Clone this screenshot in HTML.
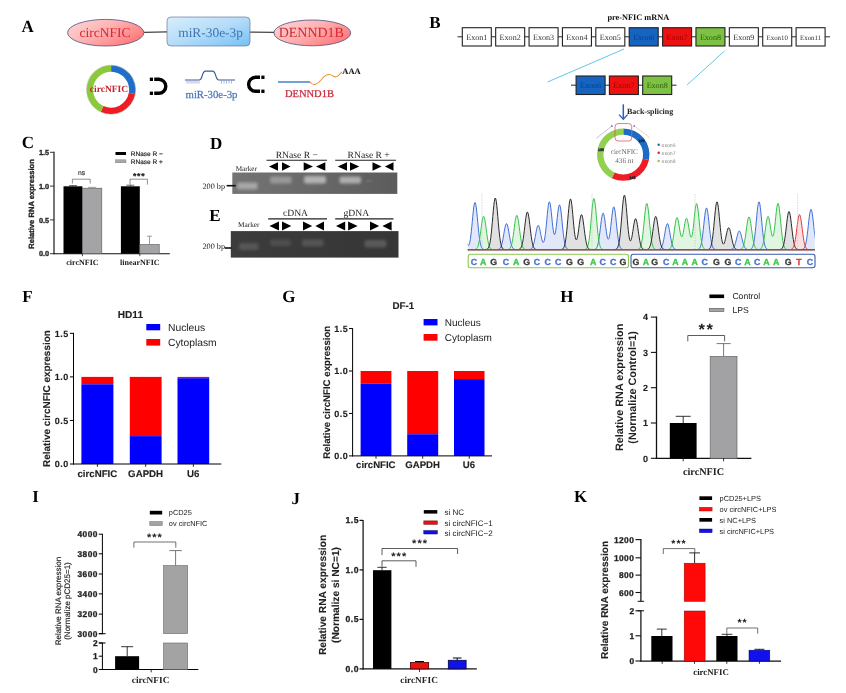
<!DOCTYPE html>
<html><head><meta charset="utf-8"><title>Figure</title>
<style>
html,body{margin:0;padding:0;background:#fff;}
body{width:846px;height:693px;overflow:hidden;}
svg{display:block;filter:blur(0.35px);}
</style></head><body>
<svg width="846" height="693" viewBox="0 0 846 693" text-rendering="geometricPrecision">
<rect x="0" y="0" width="846" height="693" fill="#fff"/>
<defs>
<linearGradient id="gRed" x1="0" y1="0" x2="1" y2="0.6"><stop offset="0" stop-color="#fdd8d8"/><stop offset="0.5" stop-color="#fdb4b4"/><stop offset="1" stop-color="#ff7c7c"/></linearGradient>
<linearGradient id="gBlue" x1="0" y1="0" x2="1" y2="1"><stop offset="0" stop-color="#d8eefc"/><stop offset="0.5" stop-color="#b4dcf8"/><stop offset="1" stop-color="#74c0f4"/></linearGradient>
<linearGradient id="gelD" x1="0" y1="0" x2="1" y2="0"><stop offset="0" stop-color="#747474"/><stop offset="0.5" stop-color="#686868"/><stop offset="1" stop-color="#5c5c5c"/></linearGradient>
<linearGradient id="gelE" x1="0" y1="0" x2="1" y2="0"><stop offset="0" stop-color="#3c3c3c"/><stop offset="1" stop-color="#363636"/></linearGradient>
<filter id="bl1" x="-20%" y="-50%" width="140%" height="200%"><feGaussianBlur stdDeviation="1.7"/></filter>
<filter id="bl2" x="-20%" y="-50%" width="140%" height="200%"><feGaussianBlur stdDeviation="0.8"/></filter>
</defs>
<text x="21.50" y="31.60" font-family="Liberation Serif, serif" font-size="17" font-weight="bold" fill="#000" text-anchor="start" >A</text>
<line x1="144.00" y1="32.30" x2="167.00" y2="31.90" stroke="#444" stroke-width="1.2" />
<line x1="250.00" y1="32.10" x2="274.00" y2="32.40" stroke="#444" stroke-width="1.2" />
<ellipse cx="105.7" cy="32.7" rx="38.1" ry="13.3" fill="url(#gRed)" stroke="#4c4c80" stroke-width="0.8"/>
<rect x="167" y="17" width="83" height="29" rx="4" fill="url(#gBlue)" stroke="#4a6a90" stroke-width="0.6"/>
<ellipse cx="312.3" cy="32.9" rx="38.4" ry="12.9" fill="url(#gRed)" stroke="#4c4c80" stroke-width="0.8"/>
<text x="105.00" y="36.80" font-family="Liberation Serif, serif" font-size="13.5" font-weight="normal" fill="#d42636" text-anchor="middle" >circNFIC</text>
<text x="210.60" y="36.80" font-family="Liberation Serif, serif" font-size="13.4" font-weight="normal" fill="#3f74b4" text-anchor="middle" >miR-30e-3p</text>
<text x="311.30" y="37.30" font-family="Liberation Serif, serif" font-size="14" font-weight="normal" fill="#d42636" text-anchor="middle" >DENND1B</text>
<circle cx="111.1" cy="89.7" r="24.5" fill="none" stroke="#bbb" stroke-width="0.8"/>
<path d="M111.10,65.40 A24.3,24.3 0 0 1 135.03,93.92 L128.83,92.83 A18,18 0 0 0 111.10,71.70 Z" fill="#1f6fc8"/>
<path d="M135.03,93.92 A24.3,24.3 0 0 1 100.83,111.72 L103.49,106.01 A18,18 0 0 0 128.83,92.83 Z" fill="#ee1c25"/>
<path d="M100.83,111.72 A24.3,24.3 0 0 1 111.10,65.40 L111.10,71.70 A18,18 0 0 0 103.49,106.01 Z" fill="#8cc83c"/>
<text x="109.00" y="92.40" font-family="Liberation Serif, serif" font-size="9.5" font-weight="bold" fill="#c8202a" text-anchor="middle" >circNFIC</text>
<path d="M154.2,79.3 H158.8 A7,7 0 0 1 158.8,93.3 H154.2" fill="none" stroke="#000" stroke-width="3.4" />
<rect x="149.80" y="77.60" width="3.20" height="3.40" fill="#000" stroke="none" stroke-width="0" />
<rect x="149.80" y="91.60" width="3.20" height="3.40" fill="#000" stroke="none" stroke-width="0" />
<path d="M260,77.3 H255.6 A7,7 0 0 0 255.6,91.3 H260" fill="none" stroke="#000" stroke-width="3.4" />
<rect x="261.30" y="75.60" width="3.20" height="3.40" fill="#000" stroke="none" stroke-width="0" />
<rect x="261.30" y="89.60" width="3.20" height="3.40" fill="#000" stroke="none" stroke-width="0" />
<path d="M185,80 H199 C203,80 201.5,71.2 205.5,71.2 H212.5 C216.5,71.2 215,80 219,80 H235" fill="none" stroke="#3a5a9a" stroke-width="1.2" />
<line x1="187.00" y1="80.80" x2="187.00" y2="83.60" stroke="#6f8cc0" stroke-width="0.6" />
<line x1="189.00" y1="80.80" x2="189.00" y2="83.60" stroke="#6f8cc0" stroke-width="0.6" />
<line x1="191.00" y1="80.80" x2="191.00" y2="83.60" stroke="#6f8cc0" stroke-width="0.6" />
<line x1="193.00" y1="80.80" x2="193.00" y2="83.60" stroke="#6f8cc0" stroke-width="0.6" />
<line x1="195.00" y1="80.80" x2="195.00" y2="83.60" stroke="#6f8cc0" stroke-width="0.6" />
<line x1="197.00" y1="80.80" x2="197.00" y2="83.60" stroke="#6f8cc0" stroke-width="0.6" />
<line x1="199.00" y1="80.80" x2="199.00" y2="83.60" stroke="#6f8cc0" stroke-width="0.6" />
<line x1="221.50" y1="80.80" x2="221.50" y2="83.60" stroke="#6f8cc0" stroke-width="0.6" />
<line x1="224.00" y1="80.80" x2="224.00" y2="83.60" stroke="#6f8cc0" stroke-width="0.6" />
<line x1="226.50" y1="80.80" x2="226.50" y2="83.60" stroke="#6f8cc0" stroke-width="0.6" />
<line x1="229.00" y1="80.80" x2="229.00" y2="83.60" stroke="#6f8cc0" stroke-width="0.6" />
<line x1="231.50" y1="80.80" x2="231.50" y2="83.60" stroke="#6f8cc0" stroke-width="0.6" />
<text x="211.50" y="98.00" font-family="Liberation Serif, serif" font-size="10.75" font-weight="normal" fill="#4a78b8" text-anchor="middle" stroke="#4a78b8" stroke-width="0.25">miR-30e-3p</text>
<line x1="278.00" y1="82.00" x2="310.00" y2="82.00" stroke="#2a6cc0" stroke-width="1.3" />
<path d="M310,82 C313,86 317,85 321,80 C325,74.5 329,73 333,76 C336.5,78.5 339,75 342,72" fill="none" stroke="#e8963c" stroke-width="1.1" />
<text x="342.30" y="74.00" font-family="Liberation Serif, serif" font-size="8.5" font-weight="bold" fill="#111" text-anchor="start" >AAA</text>
<text x="309.40" y="97.30" font-family="Liberation Serif, serif" font-size="10.5" font-weight="normal" fill="#c8283a" text-anchor="middle" stroke="#c8283a" stroke-width="0.25">DENND1B</text>
<text x="429.30" y="28.10" font-family="Liberation Serif, serif" font-size="17" font-weight="bold" fill="#000" text-anchor="start" >B</text>
<text x="638.30" y="19.80" font-family="Liberation Serif, serif" font-size="8.3" font-weight="bold" fill="#111" text-anchor="middle" >pre-NFIC mRNA</text>
<line x1="457.50" y1="36.80" x2="830.00" y2="36.80" stroke="#111" stroke-width="0.9" />
<rect x="462.30" y="27.70" width="29.00" height="18.30" fill="#fff" stroke="#222" stroke-width="1.1" />
<text x="476.80" y="39.95" font-family="Liberation Serif, serif" font-size="8.1" font-weight="normal" fill="#333" text-anchor="middle" >Exon1</text>
<rect x="495.68" y="27.70" width="29.00" height="18.30" fill="#fff" stroke="#222" stroke-width="1.1" />
<text x="510.18" y="39.95" font-family="Liberation Serif, serif" font-size="8.1" font-weight="normal" fill="#333" text-anchor="middle" >Exon2</text>
<rect x="529.06" y="27.70" width="29.00" height="18.30" fill="#fff" stroke="#222" stroke-width="1.1" />
<text x="543.56" y="39.95" font-family="Liberation Serif, serif" font-size="8.1" font-weight="normal" fill="#333" text-anchor="middle" >Exon3</text>
<rect x="562.44" y="27.70" width="29.00" height="18.30" fill="#fff" stroke="#222" stroke-width="1.1" />
<text x="576.94" y="39.95" font-family="Liberation Serif, serif" font-size="8.1" font-weight="normal" fill="#333" text-anchor="middle" >Exon4</text>
<rect x="595.82" y="27.70" width="29.00" height="18.30" fill="#fff" stroke="#222" stroke-width="1.1" />
<text x="610.32" y="39.95" font-family="Liberation Serif, serif" font-size="8.1" font-weight="normal" fill="#333" text-anchor="middle" >Exon5</text>
<rect x="629.20" y="27.70" width="29.00" height="18.30" fill="#1565c0" stroke="#222" stroke-width="1.1" />
<text x="643.70" y="39.95" font-family="Liberation Serif, serif" font-size="8.1" font-weight="normal" fill="#0b3f8a" text-anchor="middle" >Exon6</text>
<rect x="662.58" y="27.70" width="29.00" height="18.30" fill="#ee1111" stroke="#222" stroke-width="1.1" />
<text x="677.08" y="39.95" font-family="Liberation Serif, serif" font-size="8.1" font-weight="normal" fill="#a00000" text-anchor="middle" >Exon7</text>
<rect x="695.96" y="27.70" width="29.00" height="18.30" fill="#7dc242" stroke="#222" stroke-width="1.1" />
<text x="710.46" y="39.95" font-family="Liberation Serif, serif" font-size="8.1" font-weight="normal" fill="#2f5a12" text-anchor="middle" >Exon8</text>
<rect x="729.34" y="27.70" width="29.00" height="18.30" fill="#fff" stroke="#222" stroke-width="1.1" />
<text x="743.84" y="39.95" font-family="Liberation Serif, serif" font-size="8.1" font-weight="normal" fill="#333" text-anchor="middle" >Exon9</text>
<rect x="762.72" y="27.70" width="29.00" height="18.30" fill="#fff" stroke="#222" stroke-width="1.1" />
<text x="777.22" y="39.95" font-family="Liberation Serif, serif" font-size="6.9" font-weight="normal" fill="#333" text-anchor="middle" >Exon10</text>
<rect x="796.10" y="27.70" width="29.00" height="18.30" fill="#fff" stroke="#222" stroke-width="1.1" />
<text x="810.60" y="39.95" font-family="Liberation Serif, serif" font-size="6.9" font-weight="normal" fill="#333" text-anchor="middle" >Exon11</text>
<line x1="571.00" y1="85.20" x2="676.50" y2="85.20" stroke="#111" stroke-width="0.9" />
<rect x="576.10" y="76.00" width="29.00" height="18.50" fill="#1565c0" stroke="#222" stroke-width="1.1" />
<text x="590.60" y="88.35" font-family="Liberation Serif, serif" font-size="8.1" font-weight="normal" fill="#0b3f8a" text-anchor="middle" >Exon6</text>
<rect x="609.40" y="76.00" width="29.00" height="18.50" fill="#ee1111" stroke="#222" stroke-width="1.1" />
<text x="623.90" y="88.35" font-family="Liberation Serif, serif" font-size="8.1" font-weight="normal" fill="#a00000" text-anchor="middle" >Exon7</text>
<rect x="642.70" y="76.00" width="29.00" height="18.50" fill="#7dc242" stroke="#222" stroke-width="1.1" />
<text x="657.20" y="88.35" font-family="Liberation Serif, serif" font-size="8.1" font-weight="normal" fill="#2f5a12" text-anchor="middle" >Exon8</text>
<line x1="624.00" y1="49.00" x2="547.50" y2="82.00" stroke="#3bb8e0" stroke-width="0.8" />
<line x1="724.50" y1="51.00" x2="687.00" y2="85.00" stroke="#3bb8e0" stroke-width="0.8" />
<line x1="623.30" y1="104.30" x2="623.30" y2="118.30" stroke="#2a5fc0" stroke-width="1.5" />
<path d="M619,114.6 L623.3,119.3 L627.6,114.6" fill="none" stroke="#2a5fc0" stroke-width="1.3" />
<text x="627.00" y="114.30" font-family="Liberation Serif, serif" font-size="8.0" font-weight="bold" fill="#222" text-anchor="start" >Back-splicing</text>
<path d="M623.30,128.40 A26.2,26.2 0 0 1 648.93,160.05 L642.67,158.72 A19.8,19.8 0 0 0 623.30,134.80 Z" fill="#1e6bc6"/>
<path d="M648.93,160.05 A26.2,26.2 0 0 1 611.81,178.15 L614.62,172.40 A19.8,19.8 0 0 0 642.67,158.72 Z" fill="#ee1c25"/>
<path d="M611.81,178.15 A26.2,26.2 0 0 1 623.30,128.40 L623.30,134.80 A19.8,19.8 0 0 0 614.62,172.40 Z" fill="#92d050"/>
<rect x="615" y="123.6" width="16.7" height="17.4" rx="3" fill="none" stroke="#e05868" stroke-width="0.8"/>
<line x1="596.30" y1="138.30" x2="612.40" y2="125.70" stroke="#7a80d8" stroke-width="0.5" />
<line x1="649.50" y1="137.60" x2="634.80" y2="126.30" stroke="#e8a080" stroke-width="0.5" />
<path d="M611.5,124.8 l1.6,1.6 l-2,0.4 z" fill="#3a50b0" stroke="none" stroke-width="0" />
<path d="M634.5,124.8 l-1.6,1.6 l2,0.4 z" fill="#3a50b0" stroke="none" stroke-width="0" />
<text x="624.30" y="154.30" font-family="Liberation Serif, serif" font-size="7.2" font-weight="normal" fill="#666" text-anchor="middle" >circNFIC</text>
<text x="624.30" y="162.50" font-family="Liberation Serif, serif" font-size="7.2" font-weight="normal" fill="#666" text-anchor="middle" >436 nt</text>
<text x="601.00" y="150.50" font-family="Liberation Sans, sans-serif" font-size="3.6" font-weight="bold" fill="#223" text-anchor="middle"  stroke="#223" stroke-width="0.3">185</text>
<text x="641.50" y="141.50" font-family="Liberation Sans, sans-serif" font-size="3.6" font-weight="bold" fill="#223" text-anchor="middle"  stroke="#223" stroke-width="0.3">106</text>
<text x="632.50" y="178.50" font-family="Liberation Sans, sans-serif" font-size="3.6" font-weight="bold" fill="#223" text-anchor="middle"  stroke="#223" stroke-width="0.3">145</text>
<circle cx="658.7" cy="144.8" r="1.25" fill="#1e6bc6"/>
<text x="661.50" y="146.50" font-family="Liberation Sans, sans-serif" font-size="5.2" font-weight="normal" fill="#8a8a8a" text-anchor="start" >exon6</text>
<circle cx="658.7" cy="152.8" r="1.25" fill="#ee1c25"/>
<text x="661.50" y="154.50" font-family="Liberation Sans, sans-serif" font-size="5.2" font-weight="normal" fill="#8a8a8a" text-anchor="start" >exon7</text>
<circle cx="658.7" cy="161" r="1.25" fill="#8fce46"/>
<text x="661.50" y="162.70" font-family="Liberation Sans, sans-serif" font-size="5.2" font-weight="normal" fill="#8a8a8a" text-anchor="start" >exon8</text>
<clipPath id="trc"><rect x="467.8" y="190" width="346.99999999999994" height="60.099999999999994"/></clipPath>
<g clip-path="url(#trc)">
<path d="M465.8,249.6 L465.8,237.53 L466.3,240.23 L466.8,242.44 L467.3,244.09 L467.8,245.11 L468.3,245.47 L468.8,245.14 L469.3,244.07 L469.8,242.21 L470.3,239.53 L470.8,236.02 L471.3,231.74 L471.8,226.84 L472.3,221.55 L472.8,216.22 L473.3,211.25 L473.8,207.09 L474.3,204.11 L474.8,202.63 L475.3,202.80 L475.8,204.60 L476.3,207.84 L476.8,212.20 L477.3,217.28 L477.8,222.65 L478.3,227.91 L478.8,232.75 L479.3,236.97 L479.8,240.47 L480.3,243.23 L480.8,245.31 L481.3,246.81 L481.8,247.85 L482.3,248.54 L482.8,248.98 L483.3,249.25 L483.8,249.41 L484.3,249.50 L484.8,249.55 L485.3,249.58 L485.8,249.59 L486.3,249.59 L486.8,249.60 L487.3,249.60 L487.8,249.60 L488.3,249.60 L488.8,249.60 L489.3,249.60 L489.8,249.60 L490.3,249.60 L490.8,249.60 L491.3,249.60 L491.8,249.60 L492.3,249.60 L492.8,249.60 L493.3,249.60 L493.8,249.60 L494.3,249.60 L494.8,249.60 L495.3,249.60 L495.8,249.59 L496.3,249.58 L496.8,249.57 L497.3,249.54 L497.8,249.48 L498.3,249.38 L498.8,249.22 L499.3,248.95 L499.8,248.54 L500.3,247.92 L500.8,247.03 L501.3,245.81 L501.8,244.21 L502.3,242.20 L502.8,239.79 L503.3,237.06 L503.8,234.13 L504.3,231.18 L504.8,228.44 L505.3,226.13 L505.8,224.49 L506.3,223.67 L506.8,223.77 L507.3,224.76 L507.8,226.55 L508.3,228.96 L508.8,231.76 L509.3,234.72 L509.8,237.63 L510.3,240.30 L510.8,242.63 L511.3,244.56 L511.8,246.08 L512.3,247.23 L512.8,248.06 L513.3,248.63 L513.8,249.01 L514.3,249.26 L514.8,249.41 L515.3,249.50 L515.8,249.54 L516.3,249.57 L516.8,249.59 L517.3,249.59 L517.8,249.60 L518.3,249.60 L518.8,249.60 L519.3,249.60 L519.8,249.60 L520.3,249.60 L520.8,249.60 L521.3,249.60 L521.8,249.60 L522.3,249.60 L522.8,249.60 L523.3,249.60 L523.8,249.60 L524.3,249.60 L524.8,249.60 L525.3,249.60 L525.8,249.60 L526.3,249.60 L526.8,249.60 L527.3,249.59 L527.8,249.59 L528.3,249.58 L528.8,249.56 L529.3,249.51 L529.8,249.44 L530.3,249.32 L530.8,249.11 L531.3,248.78 L531.8,248.29 L532.3,247.57 L532.8,246.57 L533.3,245.22 L533.8,243.50 L534.3,241.41 L534.8,238.98 L535.3,236.31 L535.8,233.55 L536.3,230.89 L536.8,228.56 L537.3,226.76 L537.8,225.68 L538.3,225.42 L538.8,226.00 L539.3,227.37 L539.8,229.37 L540.3,231.79 L540.8,234.40 L541.3,236.95 L541.8,239.20 L542.3,240.97 L542.8,242.09 L543.3,242.43 L543.8,241.88 L544.3,240.39 L544.8,237.92 L545.3,234.50 L545.8,230.22 L546.3,225.28 L546.8,219.96 L547.3,214.64 L547.8,209.76 L548.3,205.75 L548.8,203.02 L549.3,201.84 L549.8,202.32 L550.3,204.40 L550.8,207.85 L551.3,212.29 L551.8,217.25 L552.3,222.24 L552.8,226.80 L553.3,230.53 L553.8,233.14 L554.3,234.43 L554.8,234.32 L555.3,232.84 L555.8,230.12 L556.3,226.40 L556.8,221.99 L557.3,217.32 L557.8,212.84 L558.3,209.03 L558.8,206.28 L559.3,204.92 L559.8,205.10 L560.3,206.82 L560.8,209.90 L561.3,214.05 L561.8,218.88 L562.3,223.98 L562.8,228.98 L563.3,233.59 L563.8,237.60 L564.3,240.92 L564.8,243.54 L565.3,245.52 L565.8,246.95 L566.3,247.94 L566.8,248.59 L567.3,249.01 L567.8,249.27 L568.3,249.42 L568.8,249.51 L569.3,249.55 L569.8,249.58 L570.3,249.59 L570.8,249.59 L571.3,249.60 L571.8,249.60 L572.3,249.60 L572.8,249.60 L573.3,249.60 L573.8,249.60 L574.3,249.60 L574.8,249.60 L575.3,249.60 L575.8,249.60 L576.3,249.60 L576.8,249.60 L577.3,249.60 L577.8,249.60 L578.3,249.60 L578.8,249.60 L579.3,249.60 L579.8,249.60 L580.3,249.60 L580.8,249.60 L581.3,249.60 L581.8,249.60 L582.3,249.60 L582.8,249.60 L583.3,249.60 L583.8,249.60 L584.3,249.60 L584.8,249.60 L585.3,249.60 L585.8,249.60 L586.3,249.60 L586.8,249.60 L587.3,249.60 L587.8,249.60 L588.3,249.60 L588.8,249.60 L589.3,249.60 L589.8,249.60 L590.3,249.60 L590.8,249.60 L591.3,249.60 L591.8,249.60 L592.3,249.59 L592.8,249.58 L593.3,249.56 L593.8,249.52 L594.3,249.45 L594.8,249.33 L595.3,249.12 L595.8,248.78 L596.3,248.24 L596.8,247.44 L597.3,246.27 L597.8,244.66 L598.3,242.53 L598.8,239.82 L599.3,236.55 L599.8,232.80 L600.3,228.72 L600.8,224.56 L601.3,220.63 L601.8,217.25 L602.3,214.73 L602.8,213.34 L603.3,213.20 L603.8,214.33 L604.3,216.60 L604.8,219.76 L605.3,223.50 L605.8,227.44 L606.3,231.22 L606.8,234.53 L607.3,237.10 L607.8,238.73 L608.3,239.31 L608.8,238.77 L609.3,237.12 L609.8,234.41 L610.3,230.80 L610.8,226.52 L611.3,221.88 L611.8,217.25 L612.3,213.06 L612.8,209.71 L613.3,207.54 L613.8,206.80 L614.3,207.56 L614.8,209.75 L615.3,213.14 L615.8,217.41 L616.3,222.18 L616.8,227.06 L617.3,231.71 L617.8,235.90 L618.3,239.48 L618.8,242.38 L619.3,244.63 L619.8,246.30 L620.3,247.49 L620.8,248.29 L621.3,248.82 L621.8,249.15 L622.3,249.35 L622.8,249.47 L623.3,249.53 L623.8,249.57 L624.3,249.58 L624.8,249.59 L625.3,249.60 L625.8,249.60 L626.3,249.60 L626.8,249.60 L627.3,249.60 L627.8,249.60 L628.3,249.60 L628.8,249.60 L629.3,249.60 L629.8,249.60 L630.3,249.60 L630.8,249.60 L631.3,249.60 L631.8,249.60 L632.3,249.60 L632.8,249.60 L633.3,249.60 L633.8,249.60 L634.3,249.60 L634.8,249.60 L635.3,249.60 L635.8,249.60 L636.3,249.60 L636.8,249.60 L637.3,249.60 L637.8,249.60 L638.3,249.60 L638.8,249.60 L639.3,249.60 L639.8,249.60 L640.3,249.60 L640.8,249.60 L641.3,249.60 L641.8,249.60 L642.3,249.60 L642.8,249.60 L643.3,249.60 L643.8,249.60 L644.3,249.60 L644.8,249.60 L645.3,249.60 L645.8,249.60 L646.3,249.60 L646.8,249.60 L647.3,249.60 L647.8,249.60 L648.3,249.60 L648.8,249.60 L649.3,249.60 L649.8,249.60 L650.3,249.60 L650.8,249.60 L651.3,249.60 L651.8,249.60 L652.3,249.60 L652.8,249.60 L653.3,249.60 L653.8,249.60 L654.3,249.60 L654.8,249.60 L655.3,249.60 L655.8,249.60 L656.3,249.60 L656.8,249.59 L657.3,249.58 L657.8,249.56 L658.3,249.53 L658.8,249.47 L659.3,249.36 L659.8,249.17 L660.3,248.88 L660.8,248.43 L661.3,247.76 L661.8,246.81 L662.3,245.52 L662.8,243.84 L663.3,241.74 L663.8,239.27 L664.3,236.48 L664.8,233.53 L665.3,230.61 L665.8,227.93 L666.3,225.75 L666.8,224.26 L667.3,223.62 L667.8,223.89 L668.3,225.06 L668.8,226.99 L669.3,229.49 L669.8,232.35 L670.3,235.31 L670.8,238.18 L671.3,240.80 L671.8,243.05 L672.3,244.90 L672.8,246.34 L673.3,247.42 L673.8,248.19 L674.3,248.72 L674.8,249.07 L675.3,249.29 L675.8,249.43 L676.3,249.51 L676.8,249.55 L677.3,249.58 L677.8,249.59 L678.3,249.59 L678.8,249.60 L679.3,249.60 L679.8,249.60 L680.3,249.60 L680.8,249.60 L681.3,249.60 L681.8,249.60 L682.3,249.60 L682.8,249.60 L683.3,249.60 L683.8,249.60 L684.3,249.60 L684.8,249.60 L685.3,249.60 L685.8,249.60 L686.3,249.60 L686.8,249.60 L687.3,249.60 L687.8,249.60 L688.3,249.60 L688.8,249.60 L689.3,249.60 L689.8,249.60 L690.3,249.60 L690.8,249.60 L691.3,249.60 L691.8,249.60 L692.3,249.60 L692.8,249.60 L693.3,249.60 L693.8,249.60 L694.3,249.60 L694.8,249.60 L695.3,249.59 L695.8,249.59 L696.3,249.57 L696.8,249.55 L697.3,249.50 L697.8,249.41 L698.3,249.25 L698.8,248.99 L699.3,248.56 L699.8,247.89 L700.3,246.90 L700.8,245.47 L701.3,243.52 L701.8,240.95 L702.3,237.72 L702.8,233.87 L703.3,229.49 L703.8,224.78 L704.3,220.06 L704.8,215.66 L705.3,211.96 L705.8,209.33 L706.3,208.02 L706.8,208.17 L707.3,209.76 L707.8,212.63 L708.3,216.49 L708.8,220.99 L709.3,225.74 L709.8,230.40 L710.3,234.68 L710.8,238.42 L711.3,241.51 L711.8,243.96 L712.3,245.80 L712.8,247.13 L713.3,248.05 L713.8,248.66 L714.3,249.05 L714.8,249.29 L715.3,249.43 L715.8,249.51 L716.3,249.56 L716.8,249.58 L717.3,249.59 L717.8,249.60 L718.3,249.60 L718.8,249.60 L719.3,249.60 L719.8,249.60 L720.3,249.60 L720.8,249.60 L721.3,249.60 L721.8,249.60 L722.3,249.60 L722.8,249.60 L723.3,249.60 L723.8,249.60 L724.3,249.60 L724.8,249.60 L725.3,249.60 L725.8,249.60 L726.3,249.60 L726.8,249.60 L727.3,249.60 L727.8,249.60 L728.3,249.60 L728.8,249.59 L729.3,249.58 L729.8,249.57 L730.3,249.54 L730.8,249.49 L731.3,249.40 L731.8,249.26 L732.3,249.03 L732.8,248.68 L733.3,248.17 L733.8,247.44 L734.3,246.46 L734.8,245.20 L735.3,243.65 L735.8,241.82 L736.3,239.80 L736.8,237.68 L737.3,235.61 L737.8,233.75 L738.3,232.28 L738.8,231.33 L739.3,231.00 L739.8,231.33 L740.3,232.28 L740.8,233.75 L741.3,235.61 L741.8,237.68 L742.3,239.80 L742.8,241.82 L743.3,243.65 L743.8,245.20 L744.3,246.46 L744.8,247.44 L745.3,248.17 L745.8,248.68 L746.3,249.03 L746.8,249.26 L747.3,249.40 L747.8,249.49 L748.3,249.53 L748.8,249.54 L749.3,249.53 L749.8,249.48 L750.3,249.38 L750.8,249.20 L751.3,248.90 L751.8,248.41 L752.3,247.64 L752.8,246.50 L753.3,244.87 L753.8,242.63 L754.3,239.68 L754.8,235.99 L755.3,231.57 L755.8,226.54 L756.3,221.15 L756.8,215.73 L757.3,210.69 L757.8,206.46 L758.3,203.44 L758.8,201.94 L759.3,202.11 L759.8,203.93 L760.3,207.22 L760.8,211.65 L761.3,216.80 L761.8,222.25 L762.3,227.59 L762.8,232.50 L763.3,236.79 L763.8,240.33 L764.3,243.13 L764.8,245.24 L765.3,246.77 L765.8,247.82 L766.3,248.52 L766.8,248.97 L767.3,249.25 L767.8,249.41 L768.3,249.50 L768.8,249.55 L769.3,249.57 L769.8,249.59 L770.3,249.59 L770.8,249.60 L771.3,249.60 L771.8,249.60 L772.3,249.60 L772.8,249.60 L773.3,249.60 L773.8,249.60 L774.3,249.60 L774.8,249.60 L775.3,249.60 L775.8,249.60 L776.3,249.60 L776.8,249.60 L777.3,249.60 L777.8,249.60 L778.3,249.60 L778.8,249.60 L779.3,249.60 L779.8,249.60 L780.3,249.60 L780.8,249.60 L781.3,249.60 L781.8,249.60 L782.3,249.60 L782.8,249.60 L783.3,249.60 L783.8,249.60 L784.3,249.60 L784.8,249.60 L785.3,249.60 L785.8,249.60 L786.3,249.60 L786.8,249.60 L787.3,249.60 L787.8,249.60 L788.3,249.60 L788.8,249.60 L789.3,249.60 L789.8,249.60 L790.3,249.60 L790.8,249.60 L791.3,249.60 L791.8,249.60 L792.3,249.60 L792.8,249.60 L793.3,249.60 L793.8,249.60 L794.3,249.60 L794.8,249.60 L795.3,249.60 L795.8,249.60 L796.3,249.60 L796.8,249.60 L797.3,249.60 L797.8,249.60 L798.3,249.60 L798.8,249.60 L799.3,249.60 L799.8,249.59 L800.3,249.59 L800.8,249.58 L801.3,249.55 L801.8,249.50 L802.3,249.42 L802.8,249.26 L803.3,249.01 L803.8,248.59 L804.3,247.95 L804.8,246.99 L805.3,245.61 L805.8,243.72 L806.3,241.24 L806.8,238.12 L807.3,234.40 L807.8,230.16 L808.3,225.62 L808.8,221.05 L809.3,216.80 L809.8,213.23 L810.3,210.68 L810.8,209.42 L811.3,209.56 L811.8,211.09 L812.3,213.85 L812.8,217.57 L813.3,221.88 L813.8,226.42 L814.3,230.83 L814.8,234.82 L815.3,238.20 L815.8,240.84 L816.3,242.70 L816.8,243.80 L816.8,249.6 Z" fill="#dde4f8" fill-opacity="0.85" stroke="none"/>
<path d="M465.8,249.6 L465.8,249.60 L466.3,249.60 L466.8,249.60 L467.3,249.60 L467.8,249.60 L468.3,249.60 L468.8,249.60 L469.3,249.60 L469.8,249.60 L470.3,249.60 L470.8,249.60 L471.3,249.60 L471.8,249.60 L472.3,249.60 L472.8,249.59 L473.3,249.58 L473.8,249.56 L474.3,249.53 L474.8,249.47 L475.3,249.35 L475.8,249.16 L476.3,248.85 L476.8,248.37 L477.3,247.63 L477.8,246.57 L478.3,245.11 L478.8,243.16 L479.3,240.70 L479.8,237.73 L480.3,234.31 L480.8,230.60 L481.3,226.82 L481.8,223.24 L482.3,220.16 L482.8,217.88 L483.3,216.61 L483.8,216.49 L484.3,217.54 L484.8,219.64 L485.3,222.57 L485.8,226.08 L486.3,229.84 L486.8,233.59 L487.3,237.07 L487.8,240.14 L488.3,242.71 L488.8,244.76 L489.3,246.32 L489.8,247.45 L490.3,248.24 L490.8,248.77 L491.3,249.11 L491.8,249.32 L492.3,249.45 L492.8,249.52 L493.3,249.56 L493.8,249.58 L494.3,249.59 L494.8,249.60 L495.3,249.60 L495.8,249.60 L496.3,249.60 L496.8,249.60 L497.3,249.60 L497.8,249.60 L498.3,249.60 L498.8,249.60 L499.3,249.60 L499.8,249.60 L500.3,249.60 L500.8,249.60 L501.3,249.60 L501.8,249.60 L502.3,249.60 L502.8,249.60 L503.3,249.60 L503.8,249.60 L504.3,249.60 L504.8,249.60 L505.3,249.60 L505.8,249.59 L506.3,249.59 L506.8,249.57 L507.3,249.54 L507.8,249.49 L508.3,249.40 L508.8,249.24 L509.3,248.97 L509.8,248.55 L510.3,247.91 L510.8,246.96 L511.3,245.62 L511.8,243.82 L512.3,241.49 L512.8,238.62 L513.3,235.26 L513.8,231.53 L514.3,227.62 L514.8,223.80 L515.3,220.38 L515.8,217.66 L516.3,215.91 L516.8,215.30 L517.3,215.91 L517.8,217.66 L518.3,220.38 L518.8,223.80 L519.3,227.62 L519.8,231.53 L520.3,235.26 L520.8,238.62 L521.3,241.49 L521.8,243.82 L522.3,245.62 L522.8,246.96 L523.3,247.91 L523.8,248.55 L524.3,248.97 L524.8,249.24 L525.3,249.40 L525.8,249.49 L526.3,249.54 L526.8,249.57 L527.3,249.59 L527.8,249.59 L528.3,249.60 L528.8,249.60 L529.3,249.60 L529.8,249.60 L530.3,249.60 L530.8,249.60 L531.3,249.60 L531.8,249.60 L532.3,249.60 L532.8,249.60 L533.3,249.60 L533.8,249.60 L534.3,249.60 L534.8,249.60 L535.3,249.60 L535.8,249.60 L536.3,249.60 L536.8,249.60 L537.3,249.60 L537.8,249.60 L538.3,249.60 L538.8,249.60 L539.3,249.60 L539.8,249.60 L540.3,249.60 L540.8,249.60 L541.3,249.60 L541.8,249.60 L542.3,249.60 L542.8,249.60 L543.3,249.60 L543.8,249.60 L544.3,249.60 L544.8,249.60 L545.3,249.60 L545.8,249.60 L546.3,249.60 L546.8,249.60 L547.3,249.60 L547.8,249.60 L548.3,249.60 L548.8,249.60 L549.3,249.60 L549.8,249.60 L550.3,249.60 L550.8,249.60 L551.3,249.60 L551.8,249.60 L552.3,249.60 L552.8,249.60 L553.3,249.60 L553.8,249.60 L554.3,249.60 L554.8,249.60 L555.3,249.60 L555.8,249.60 L556.3,249.60 L556.8,249.60 L557.3,249.60 L557.8,249.60 L558.3,249.60 L558.8,249.60 L559.3,249.60 L559.8,249.60 L560.3,249.60 L560.8,249.60 L561.3,249.60 L561.8,249.60 L562.3,249.60 L562.8,249.60 L563.3,249.60 L563.8,249.60 L564.3,249.60 L564.8,249.60 L565.3,249.60 L565.8,249.60 L566.3,249.60 L566.8,249.60 L567.3,249.60 L567.8,249.60 L568.3,249.60 L568.8,249.60 L569.3,249.60 L569.8,249.60 L570.3,249.60 L570.8,249.60 L571.3,249.60 L571.8,249.60 L572.3,249.60 L572.8,249.60 L573.3,249.60 L573.8,249.60 L574.3,249.60 L574.8,249.60 L575.3,249.60 L575.8,249.60 L576.3,249.60 L576.8,249.60 L577.3,249.60 L577.8,249.60 L578.3,249.60 L578.8,249.60 L579.3,249.60 L579.8,249.60 L580.3,249.60 L580.8,249.60 L581.3,249.60 L581.8,249.60 L582.3,249.60 L582.8,249.59 L583.3,249.58 L583.8,249.56 L584.3,249.53 L584.8,249.46 L585.3,249.34 L585.8,249.12 L586.3,248.76 L586.8,248.19 L587.3,247.30 L587.8,245.99 L588.3,244.12 L588.8,241.58 L589.3,238.27 L589.8,234.16 L590.3,229.29 L590.8,223.82 L591.3,218.02 L591.8,212.27 L592.3,207.01 L592.8,202.72 L593.3,199.79 L593.8,198.54 L594.3,199.08 L594.8,201.36 L595.3,205.16 L595.8,210.08 L596.3,215.69 L596.8,221.52 L597.3,227.16 L597.8,232.30 L598.3,236.72 L598.8,240.35 L599.3,243.19 L599.8,245.31 L600.3,246.83 L600.8,247.88 L601.3,248.56 L601.8,249.00 L602.3,249.26 L602.8,249.42 L603.3,249.51 L603.8,249.55 L604.3,249.58 L604.8,249.59 L605.3,249.60 L605.8,249.60 L606.3,249.60 L606.8,249.60 L607.3,249.60 L607.8,249.60 L608.3,249.60 L608.8,249.60 L609.3,249.60 L609.8,249.60 L610.3,249.60 L610.8,249.60 L611.3,249.60 L611.8,249.60 L612.3,249.60 L612.8,249.60 L613.3,249.60 L613.8,249.60 L614.3,249.60 L614.8,249.60 L615.3,249.60 L615.8,249.60 L616.3,249.60 L616.8,249.60 L617.3,249.60 L617.8,249.60 L618.3,249.60 L618.8,249.60 L619.3,249.60 L619.8,249.60 L620.3,249.60 L620.8,249.60 L621.3,249.60 L621.8,249.60 L622.3,249.60 L622.8,249.60 L623.3,249.60 L623.8,249.60 L624.3,249.60 L624.8,249.60 L625.3,249.60 L625.8,249.60 L626.3,249.60 L626.8,249.60 L627.3,249.60 L627.8,249.60 L628.3,249.60 L628.8,249.60 L629.3,249.60 L629.8,249.60 L630.3,249.60 L630.8,249.60 L631.3,249.60 L631.8,249.60 L632.3,249.60 L632.8,249.60 L633.3,249.60 L633.8,249.60 L634.3,249.60 L634.8,249.60 L635.3,249.60 L635.8,249.59 L636.3,249.58 L636.8,249.56 L637.3,249.53 L637.8,249.46 L638.3,249.33 L638.8,249.12 L639.3,248.76 L639.8,248.19 L640.3,247.32 L640.8,246.04 L641.3,244.24 L641.8,241.81 L642.3,238.67 L642.8,234.81 L643.3,230.29 L643.8,225.26 L644.3,219.99 L644.8,214.85 L645.3,210.24 L645.8,206.58 L646.3,204.22 L646.8,203.40 L647.3,204.22 L647.8,206.58 L648.3,210.24 L648.8,214.85 L649.3,219.99 L649.8,225.26 L650.3,230.29 L650.8,234.81 L651.3,238.67 L651.8,241.81 L652.3,244.24 L652.8,246.04 L653.3,247.32 L653.8,248.19 L654.3,248.76 L654.8,249.12 L655.3,249.33 L655.8,249.46 L656.3,249.53 L656.8,249.56 L657.3,249.58 L657.8,249.59 L658.3,249.60 L658.8,249.60 L659.3,249.60 L659.8,249.60 L660.3,249.60 L660.8,249.60 L661.3,249.60 L661.8,249.60 L662.3,249.60 L662.8,249.60 L663.3,249.60 L663.8,249.60 L664.3,249.60 L664.8,249.60 L665.3,249.60 L665.8,249.60 L666.3,249.59 L666.8,249.58 L667.3,249.56 L667.8,249.52 L668.3,249.45 L668.8,249.33 L669.3,249.13 L669.8,248.80 L670.3,248.29 L670.8,247.53 L671.3,246.44 L671.8,244.94 L672.3,242.97 L672.8,240.50 L673.3,237.55 L673.8,234.19 L674.3,230.59 L674.8,226.96 L675.3,223.59 L675.8,220.76 L676.3,218.73 L676.8,217.70 L677.3,217.78 L677.8,218.93 L678.3,221.01 L678.8,223.77 L679.3,226.90 L679.8,230.04 L680.3,232.86 L680.8,235.07 L681.3,236.47 L681.8,236.91 L682.3,236.36 L682.8,234.87 L683.3,232.60 L683.8,229.78 L684.3,226.69 L684.8,223.69 L685.3,221.09 L685.8,219.22 L686.3,218.28 L686.8,218.40 L687.3,219.56 L687.8,221.64 L688.3,224.39 L688.8,227.51 L689.3,230.64 L689.8,233.47 L690.3,235.67 L690.8,237.01 L691.3,237.31 L691.8,236.45 L692.3,234.42 L692.8,231.30 L693.3,227.26 L693.8,222.59 L694.3,217.64 L694.8,212.86 L695.3,208.71 L695.8,205.60 L696.3,203.88 L696.8,203.74 L697.3,205.19 L697.8,208.10 L698.3,212.17 L698.8,217.02 L699.3,222.24 L699.8,227.42 L700.3,232.25 L700.8,236.51 L701.3,240.06 L701.8,242.89 L702.3,245.05 L702.8,246.62 L703.3,247.72 L703.8,248.45 L704.3,248.93 L704.8,249.22 L705.3,249.39 L705.8,249.49 L706.3,249.54 L706.8,249.57 L707.3,249.59 L707.8,249.59 L708.3,249.60 L708.8,249.60 L709.3,249.60 L709.8,249.60 L710.3,249.60 L710.8,249.60 L711.3,249.60 L711.8,249.60 L712.3,249.60 L712.8,249.60 L713.3,249.60 L713.8,249.60 L714.3,249.60 L714.8,249.60 L715.3,249.60 L715.8,249.60 L716.3,249.60 L716.8,249.60 L717.3,249.60 L717.8,249.60 L718.3,249.60 L718.8,249.60 L719.3,249.60 L719.8,249.60 L720.3,249.60 L720.8,249.60 L721.3,249.60 L721.8,249.60 L722.3,249.60 L722.8,249.60 L723.3,249.60 L723.8,249.60 L724.3,249.60 L724.8,249.60 L725.3,249.60 L725.8,249.60 L726.3,249.60 L726.8,249.60 L727.3,249.60 L727.8,249.60 L728.3,249.60 L728.8,249.60 L729.3,249.60 L729.8,249.60 L730.3,249.60 L730.8,249.60 L731.3,249.60 L731.8,249.60 L732.3,249.60 L732.8,249.60 L733.3,249.60 L733.8,249.60 L734.3,249.60 L734.8,249.60 L735.3,249.60 L735.8,249.60 L736.3,249.60 L736.8,249.60 L737.3,249.60 L737.8,249.60 L738.3,249.59 L738.8,249.58 L739.3,249.56 L739.8,249.52 L740.3,249.45 L740.8,249.33 L741.3,249.12 L741.8,248.78 L742.3,248.26 L742.8,247.48 L743.3,246.36 L743.8,244.83 L744.3,242.82 L744.8,240.29 L745.3,237.26 L745.8,233.83 L746.3,230.14 L746.8,226.43 L747.3,222.98 L747.8,220.09 L748.3,218.02 L748.8,216.99 L749.3,217.11 L749.8,218.36 L750.3,220.61 L750.8,223.64 L751.3,227.16 L751.8,230.89 L752.3,234.54 L752.8,237.90 L753.3,240.83 L753.8,243.26 L754.3,245.17 L754.8,246.62 L755.3,247.66 L755.8,248.38 L756.3,248.86 L756.8,249.17 L757.3,249.35 L757.8,249.45 L758.3,249.49 L758.8,249.48 L759.3,249.43 L759.8,249.32 L760.3,249.11 L760.8,248.77 L761.3,248.24 L761.8,247.45 L762.3,246.32 L762.8,244.76 L763.3,242.72 L763.8,240.16 L764.3,237.09 L764.8,233.60 L765.3,229.86 L765.8,226.10 L766.3,222.60 L766.8,219.66 L767.3,217.56 L767.8,216.50 L768.3,216.59 L768.8,217.80 L769.3,219.99 L769.8,222.88 L770.3,226.17 L770.8,229.47 L771.3,232.44 L771.8,234.75 L772.3,236.14 L772.8,236.44 L773.3,235.53 L773.8,233.43 L774.3,230.21 L774.8,226.10 L775.3,221.38 L775.8,216.45 L776.3,211.77 L776.8,207.79 L777.3,204.94 L777.8,203.52 L778.3,203.70 L778.8,205.48 L779.3,208.66 L779.8,212.94 L780.3,217.92 L780.8,223.18 L781.3,228.34 L781.8,233.08 L782.3,237.22 L782.8,240.65 L783.3,243.35 L783.8,245.39 L784.3,246.86 L784.8,247.88 L785.3,248.56 L785.8,248.99 L786.3,249.26 L786.8,249.41 L787.3,249.50 L787.8,249.55 L788.3,249.58 L788.8,249.59 L789.3,249.59 L789.8,249.60 L790.3,249.60 L790.8,249.60 L791.3,249.60 L791.8,249.60 L792.3,249.60 L792.8,249.60 L793.3,249.60 L793.8,249.60 L794.3,249.60 L794.8,249.60 L795.3,249.60 L795.8,249.60 L796.3,249.60 L796.8,249.60 L797.3,249.60 L797.8,249.60 L798.3,249.60 L798.8,249.60 L799.3,249.60 L799.8,249.60 L800.3,249.60 L800.8,249.60 L801.3,249.60 L801.8,249.60 L802.3,249.60 L802.8,249.60 L803.3,249.60 L803.8,249.60 L804.3,249.60 L804.8,249.60 L805.3,249.60 L805.8,249.60 L806.3,249.60 L806.8,249.60 L807.3,249.60 L807.8,249.60 L808.3,249.60 L808.8,249.60 L809.3,249.60 L809.8,249.60 L810.3,249.60 L810.8,249.60 L811.3,249.60 L811.8,249.60 L812.3,249.60 L812.8,249.60 L813.3,249.60 L813.8,249.60 L814.3,249.60 L814.8,249.60 L815.3,249.60 L815.8,249.60 L816.3,249.60 L816.8,249.60 L816.8,249.6 Z" fill="#dcf5dc" fill-opacity="0.85" stroke="none"/>
<path d="M465.8,249.6 L465.8,249.60 L466.3,249.60 L466.8,249.60 L467.3,249.60 L467.8,249.60 L468.3,249.60 L468.8,249.60 L469.3,249.60 L469.8,249.60 L470.3,249.60 L470.8,249.60 L471.3,249.60 L471.8,249.60 L472.3,249.60 L472.8,249.60 L473.3,249.60 L473.8,249.60 L474.3,249.60 L474.8,249.60 L475.3,249.60 L475.8,249.60 L476.3,249.60 L476.8,249.60 L477.3,249.60 L477.8,249.60 L478.3,249.60 L478.8,249.60 L479.3,249.60 L479.8,249.60 L480.3,249.60 L480.8,249.60 L481.3,249.60 L481.8,249.60 L482.3,249.60 L482.8,249.60 L483.3,249.60 L483.8,249.60 L484.3,249.59 L484.8,249.58 L485.3,249.56 L485.8,249.52 L486.3,249.44 L486.8,249.30 L487.3,249.06 L487.8,248.66 L488.3,248.02 L488.8,247.05 L489.3,245.62 L489.8,243.61 L490.3,240.90 L490.8,237.40 L491.3,233.08 L491.8,228.03 L492.3,222.41 L492.8,216.53 L493.3,210.79 L493.8,205.64 L494.3,201.55 L494.8,198.91 L495.3,198.00 L495.8,198.91 L496.3,201.55 L496.8,205.64 L497.3,210.79 L497.8,216.53 L498.3,222.41 L498.8,228.03 L499.3,233.08 L499.8,237.40 L500.3,240.90 L500.8,243.61 L501.3,245.62 L501.8,247.05 L502.3,248.02 L502.8,248.66 L503.3,249.06 L503.8,249.30 L504.3,249.44 L504.8,249.52 L505.3,249.56 L505.8,249.58 L506.3,249.59 L506.8,249.60 L507.3,249.60 L507.8,249.60 L508.3,249.60 L508.8,249.60 L509.3,249.60 L509.8,249.60 L510.3,249.60 L510.8,249.60 L511.3,249.60 L511.8,249.60 L512.3,249.60 L512.8,249.60 L513.3,249.60 L513.8,249.60 L514.3,249.60 L514.8,249.60 L515.3,249.60 L515.8,249.60 L516.3,249.59 L516.8,249.59 L517.3,249.57 L517.8,249.55 L518.3,249.50 L518.8,249.41 L519.3,249.25 L519.8,248.98 L520.3,248.56 L520.8,247.91 L521.3,246.94 L521.8,245.57 L522.3,243.70 L522.8,241.27 L523.3,238.24 L523.8,234.66 L524.3,230.63 L524.8,226.36 L525.3,222.13 L525.8,218.27 L526.3,215.10 L526.8,212.95 L527.3,212.03 L527.8,212.43 L528.3,214.11 L528.8,216.90 L529.3,220.52 L529.8,224.65 L530.3,228.94 L530.8,233.09 L531.3,236.87 L531.8,240.13 L532.3,242.80 L532.8,244.88 L533.3,246.45 L533.8,247.56 L534.3,248.33 L534.8,248.84 L535.3,249.16 L535.8,249.35 L536.3,249.47 L536.8,249.53 L537.3,249.56 L537.8,249.58 L538.3,249.59 L538.8,249.60 L539.3,249.60 L539.8,249.60 L540.3,249.60 L540.8,249.60 L541.3,249.60 L541.8,249.60 L542.3,249.60 L542.8,249.60 L543.3,249.60 L543.8,249.60 L544.3,249.60 L544.8,249.60 L545.3,249.60 L545.8,249.60 L546.3,249.60 L546.8,249.60 L547.3,249.60 L547.8,249.60 L548.3,249.60 L548.8,249.60 L549.3,249.60 L549.8,249.60 L550.3,249.60 L550.8,249.60 L551.3,249.60 L551.8,249.60 L552.3,249.60 L552.8,249.60 L553.3,249.60 L553.8,249.60 L554.3,249.60 L554.8,249.60 L555.3,249.60 L555.8,249.60 L556.3,249.60 L556.8,249.60 L557.3,249.60 L557.8,249.60 L558.3,249.60 L558.8,249.60 L559.3,249.59 L559.8,249.59 L560.3,249.57 L560.8,249.54 L561.3,249.48 L561.8,249.37 L562.3,249.18 L562.8,248.86 L563.3,248.34 L563.8,247.53 L564.3,246.32 L564.8,244.58 L565.3,242.21 L565.8,239.08 L566.3,235.16 L566.8,230.47 L567.3,225.15 L567.8,219.43 L568.3,213.68 L568.8,208.33 L569.3,203.85 L569.8,200.64 L570.3,199.05 L570.8,199.22 L571.3,201.14 L571.8,204.61 L572.3,209.27 L572.8,214.66 L573.3,220.30 L573.8,225.74 L574.3,230.60 L574.8,234.58 L575.3,237.50 L575.8,239.28 L576.3,239.88 L576.8,239.34 L577.3,237.75 L577.8,235.26 L578.3,232.06 L578.8,228.40 L579.3,224.60 L579.8,221.01 L580.3,217.96 L580.8,215.78 L581.3,214.70 L581.8,214.83 L582.3,216.17 L582.8,218.58 L583.3,221.82 L583.8,225.59 L584.3,229.58 L584.8,233.49 L585.3,237.08 L585.8,240.22 L586.3,242.82 L586.8,244.86 L587.3,246.41 L587.8,247.53 L588.3,248.30 L588.8,248.81 L589.3,249.14 L589.8,249.34 L590.3,249.46 L590.8,249.53 L591.3,249.56 L591.8,249.58 L592.3,249.59 L592.8,249.60 L593.3,249.60 L593.8,249.60 L594.3,249.60 L594.8,249.60 L595.3,249.60 L595.8,249.60 L596.3,249.60 L596.8,249.60 L597.3,249.60 L597.8,249.60 L598.3,249.60 L598.8,249.60 L599.3,249.60 L599.8,249.60 L600.3,249.60 L600.8,249.60 L601.3,249.60 L601.8,249.60 L602.3,249.60 L602.8,249.60 L603.3,249.60 L603.8,249.60 L604.3,249.60 L604.8,249.60 L605.3,249.60 L605.8,249.60 L606.3,249.60 L606.8,249.60 L607.3,249.60 L607.8,249.60 L608.3,249.60 L608.8,249.60 L609.3,249.60 L609.8,249.60 L610.3,249.60 L610.8,249.60 L611.3,249.60 L611.8,249.60 L612.3,249.60 L612.8,249.60 L613.3,249.59 L613.8,249.58 L614.3,249.56 L614.8,249.52 L615.3,249.45 L615.8,249.32 L616.3,249.09 L616.8,248.71 L617.3,248.09 L617.8,247.15 L618.3,245.75 L618.8,243.76 L619.3,241.05 L619.8,237.52 L620.3,233.13 L620.8,227.94 L621.3,222.11 L621.8,215.92 L622.3,209.79 L622.8,204.18 L623.3,199.60 L623.8,196.48 L624.3,195.14 L624.8,195.71 L625.3,198.14 L625.8,202.17 L626.3,207.39 L626.8,213.31 L627.3,219.43 L627.8,225.27 L628.3,230.45 L628.8,234.72 L629.3,237.91 L629.8,239.95 L630.3,240.85 L630.8,240.66 L631.3,239.48 L631.8,237.45 L632.3,234.73 L632.8,231.56 L633.3,228.21 L633.8,224.97 L634.3,222.16 L634.8,220.06 L635.3,218.89 L635.8,218.79 L636.3,219.76 L636.8,221.72 L637.3,224.45 L637.8,227.71 L638.3,231.22 L638.8,234.70 L639.3,237.94 L639.8,240.80 L640.3,243.19 L640.8,245.09 L641.3,246.54 L641.8,247.60 L642.3,248.34 L642.8,248.83 L643.3,249.15 L643.8,249.34 L644.3,249.46 L644.8,249.52 L645.3,249.55 L645.8,249.55 L646.3,249.53 L646.8,249.48 L647.3,249.38 L647.8,249.21 L648.3,248.93 L648.8,248.48 L649.3,247.80 L649.8,246.82 L650.3,245.44 L650.8,243.59 L651.3,241.23 L651.8,238.36 L652.3,235.02 L652.8,231.36 L653.3,227.57 L653.8,223.92 L654.3,220.72 L654.8,218.26 L655.3,216.78 L655.8,216.42 L656.3,217.24 L656.8,219.14 L657.3,221.93 L657.8,225.35 L658.3,229.08 L658.8,232.85 L659.3,236.41 L659.8,239.57 L660.3,242.24 L660.8,244.39 L661.3,246.04 L661.8,247.25 L662.3,248.11 L662.8,248.68 L663.3,249.06 L663.8,249.29 L664.3,249.43 L664.8,249.51 L665.3,249.55 L665.8,249.58 L666.3,249.59 L666.8,249.59 L667.3,249.60 L667.8,249.60 L668.3,249.60 L668.8,249.60 L669.3,249.60 L669.8,249.60 L670.3,249.60 L670.8,249.60 L671.3,249.60 L671.8,249.60 L672.3,249.60 L672.8,249.60 L673.3,249.60 L673.8,249.60 L674.3,249.60 L674.8,249.60 L675.3,249.60 L675.8,249.60 L676.3,249.60 L676.8,249.60 L677.3,249.60 L677.8,249.60 L678.3,249.60 L678.8,249.60 L679.3,249.60 L679.8,249.60 L680.3,249.60 L680.8,249.60 L681.3,249.60 L681.8,249.60 L682.3,249.60 L682.8,249.60 L683.3,249.60 L683.8,249.60 L684.3,249.60 L684.8,249.60 L685.3,249.60 L685.8,249.60 L686.3,249.60 L686.8,249.60 L687.3,249.60 L687.8,249.60 L688.3,249.60 L688.8,249.60 L689.3,249.60 L689.8,249.60 L690.3,249.60 L690.8,249.60 L691.3,249.60 L691.8,249.60 L692.3,249.60 L692.8,249.60 L693.3,249.60 L693.8,249.60 L694.3,249.60 L694.8,249.60 L695.3,249.60 L695.8,249.60 L696.3,249.60 L696.8,249.60 L697.3,249.60 L697.8,249.60 L698.3,249.60 L698.8,249.60 L699.3,249.60 L699.8,249.60 L700.3,249.60 L700.8,249.60 L701.3,249.60 L701.8,249.60 L702.3,249.60 L702.8,249.60 L703.3,249.60 L703.8,249.60 L704.3,249.60 L704.8,249.60 L705.3,249.60 L705.8,249.59 L706.3,249.59 L706.8,249.57 L707.3,249.54 L707.8,249.48 L708.3,249.38 L708.8,249.20 L709.3,248.90 L709.8,248.41 L710.3,247.64 L710.8,246.50 L711.3,244.87 L711.8,242.63 L712.3,239.68 L712.8,235.99 L713.3,231.57 L713.8,226.54 L714.3,221.16 L714.8,215.73 L715.3,210.69 L715.8,206.46 L716.3,203.44 L716.8,201.94 L717.3,202.10 L717.8,203.93 L718.3,207.21 L718.8,211.63 L719.3,216.76 L719.8,222.17 L720.3,227.44 L720.8,232.25 L721.3,236.34 L721.8,239.59 L722.3,241.95 L722.8,243.41 L723.3,244.02 L723.8,243.86 L724.3,243.01 L724.8,241.56 L725.3,239.63 L725.8,237.38 L726.3,234.97 L726.8,232.61 L727.3,230.53 L727.8,228.92 L728.3,227.95 L728.8,227.72 L729.3,228.26 L729.8,229.51 L730.3,231.35 L730.8,233.60 L731.3,236.07 L731.8,238.55 L732.3,240.90 L732.8,242.98 L733.3,244.75 L733.8,246.16 L734.3,247.25 L734.8,248.05 L735.3,248.61 L735.8,249.00 L736.3,249.24 L736.8,249.40 L737.3,249.49 L737.8,249.54 L738.3,249.57 L738.8,249.58 L739.3,249.59 L739.8,249.60 L740.3,249.60 L740.8,249.60 L741.3,249.60 L741.8,249.60 L742.3,249.60 L742.8,249.60 L743.3,249.60 L743.8,249.60 L744.3,249.60 L744.8,249.60 L745.3,249.60 L745.8,249.60 L746.3,249.60 L746.8,249.60 L747.3,249.60 L747.8,249.60 L748.3,249.60 L748.8,249.60 L749.3,249.60 L749.8,249.60 L750.3,249.60 L750.8,249.60 L751.3,249.60 L751.8,249.60 L752.3,249.60 L752.8,249.60 L753.3,249.60 L753.8,249.60 L754.3,249.60 L754.8,249.60 L755.3,249.60 L755.8,249.60 L756.3,249.60 L756.8,249.60 L757.3,249.60 L757.8,249.60 L758.3,249.60 L758.8,249.60 L759.3,249.60 L759.8,249.60 L760.3,249.60 L760.8,249.60 L761.3,249.60 L761.8,249.60 L762.3,249.60 L762.8,249.60 L763.3,249.60 L763.8,249.60 L764.3,249.60 L764.8,249.60 L765.3,249.60 L765.8,249.60 L766.3,249.60 L766.8,249.60 L767.3,249.60 L767.8,249.60 L768.3,249.60 L768.8,249.60 L769.3,249.60 L769.8,249.60 L770.3,249.60 L770.8,249.60 L771.3,249.60 L771.8,249.60 L772.3,249.60 L772.8,249.60 L773.3,249.60 L773.8,249.60 L774.3,249.60 L774.8,249.60 L775.3,249.60 L775.8,249.60 L776.3,249.60 L776.8,249.60 L777.3,249.60 L777.8,249.59 L778.3,249.59 L778.8,249.58 L779.3,249.55 L779.8,249.51 L780.3,249.43 L780.8,249.28 L781.3,249.04 L781.8,248.65 L782.3,248.04 L782.8,247.13 L783.3,245.83 L783.8,244.04 L784.3,241.70 L784.8,238.75 L785.3,235.23 L785.8,231.22 L786.3,226.93 L786.8,222.61 L787.3,218.59 L787.8,215.21 L788.3,212.81 L788.8,211.61 L789.3,211.74 L789.8,213.20 L790.3,215.82 L790.8,219.35 L791.3,223.46 L791.8,227.80 L792.3,232.05 L792.8,235.97 L793.3,239.39 L793.8,242.21 L794.3,244.44 L794.8,246.13 L795.3,247.34 L795.8,248.18 L796.3,248.74 L796.8,249.10 L797.3,249.32 L797.8,249.45 L798.3,249.52 L798.8,249.56 L799.3,249.58 L799.8,249.59 L800.3,249.60 L800.8,249.60 L801.3,249.60 L801.8,249.60 L802.3,249.60 L802.8,249.60 L803.3,249.60 L803.8,249.60 L804.3,249.60 L804.8,249.60 L805.3,249.60 L805.8,249.60 L806.3,249.60 L806.8,249.60 L807.3,249.60 L807.8,249.60 L808.3,249.60 L808.8,249.60 L809.3,249.60 L809.8,249.60 L810.3,249.60 L810.8,249.60 L811.3,249.60 L811.8,249.60 L812.3,249.60 L812.8,249.60 L813.3,249.60 L813.8,249.60 L814.3,249.60 L814.8,249.60 L815.3,249.60 L815.8,249.60 L816.3,249.60 L816.8,249.60 L816.8,249.6 Z" fill="#dcdcdc" fill-opacity="0.85" stroke="none"/>
<path d="M465.8,249.6 L465.8,249.60 L466.3,249.60 L466.8,249.60 L467.3,249.60 L467.8,249.60 L468.3,249.60 L468.8,249.60 L469.3,249.60 L469.8,249.60 L470.3,249.60 L470.8,249.60 L471.3,249.60 L471.8,249.60 L472.3,249.60 L472.8,249.60 L473.3,249.60 L473.8,249.60 L474.3,249.60 L474.8,249.60 L475.3,249.60 L475.8,249.60 L476.3,249.60 L476.8,249.60 L477.3,249.60 L477.8,249.60 L478.3,249.60 L478.8,249.60 L479.3,249.60 L479.8,249.60 L480.3,249.60 L480.8,249.60 L481.3,249.60 L481.8,249.60 L482.3,249.60 L482.8,249.60 L483.3,249.60 L483.8,249.60 L484.3,249.60 L484.8,249.60 L485.3,249.60 L485.8,249.60 L486.3,249.60 L486.8,249.60 L487.3,249.60 L487.8,249.60 L488.3,249.60 L488.8,249.60 L489.3,249.60 L489.8,249.60 L490.3,249.60 L490.8,249.60 L491.3,249.60 L491.8,249.60 L492.3,249.60 L492.8,249.60 L493.3,249.60 L493.8,249.60 L494.3,249.60 L494.8,249.60 L495.3,249.60 L495.8,249.60 L496.3,249.60 L496.8,249.60 L497.3,249.60 L497.8,249.60 L498.3,249.60 L498.8,249.60 L499.3,249.60 L499.8,249.60 L500.3,249.60 L500.8,249.60 L501.3,249.60 L501.8,249.60 L502.3,249.60 L502.8,249.60 L503.3,249.60 L503.8,249.60 L504.3,249.60 L504.8,249.60 L505.3,249.60 L505.8,249.60 L506.3,249.60 L506.8,249.60 L507.3,249.60 L507.8,249.60 L508.3,249.60 L508.8,249.60 L509.3,249.60 L509.8,249.60 L510.3,249.60 L510.8,249.60 L511.3,249.60 L511.8,249.60 L512.3,249.60 L512.8,249.60 L513.3,249.60 L513.8,249.60 L514.3,249.60 L514.8,249.60 L515.3,249.60 L515.8,249.60 L516.3,249.60 L516.8,249.60 L517.3,249.60 L517.8,249.60 L518.3,249.60 L518.8,249.60 L519.3,249.60 L519.8,249.60 L520.3,249.60 L520.8,249.60 L521.3,249.60 L521.8,249.60 L522.3,249.60 L522.8,249.60 L523.3,249.60 L523.8,249.60 L524.3,249.60 L524.8,249.60 L525.3,249.60 L525.8,249.60 L526.3,249.60 L526.8,249.60 L527.3,249.60 L527.8,249.60 L528.3,249.60 L528.8,249.60 L529.3,249.60 L529.8,249.60 L530.3,249.60 L530.8,249.60 L531.3,249.60 L531.8,249.60 L532.3,249.60 L532.8,249.60 L533.3,249.60 L533.8,249.60 L534.3,249.60 L534.8,249.60 L535.3,249.60 L535.8,249.60 L536.3,249.60 L536.8,249.60 L537.3,249.60 L537.8,249.60 L538.3,249.60 L538.8,249.60 L539.3,249.60 L539.8,249.60 L540.3,249.60 L540.8,249.60 L541.3,249.60 L541.8,249.60 L542.3,249.60 L542.8,249.60 L543.3,249.60 L543.8,249.60 L544.3,249.60 L544.8,249.60 L545.3,249.60 L545.8,249.60 L546.3,249.60 L546.8,249.60 L547.3,249.60 L547.8,249.60 L548.3,249.60 L548.8,249.60 L549.3,249.60 L549.8,249.60 L550.3,249.60 L550.8,249.60 L551.3,249.60 L551.8,249.60 L552.3,249.60 L552.8,249.60 L553.3,249.60 L553.8,249.60 L554.3,249.60 L554.8,249.60 L555.3,249.60 L555.8,249.60 L556.3,249.60 L556.8,249.60 L557.3,249.60 L557.8,249.60 L558.3,249.60 L558.8,249.60 L559.3,249.60 L559.8,249.60 L560.3,249.60 L560.8,249.60 L561.3,249.60 L561.8,249.60 L562.3,249.60 L562.8,249.60 L563.3,249.60 L563.8,249.60 L564.3,249.60 L564.8,249.60 L565.3,249.60 L565.8,249.60 L566.3,249.60 L566.8,249.60 L567.3,249.60 L567.8,249.60 L568.3,249.60 L568.8,249.60 L569.3,249.60 L569.8,249.60 L570.3,249.60 L570.8,249.60 L571.3,249.60 L571.8,249.60 L572.3,249.60 L572.8,249.60 L573.3,249.60 L573.8,249.60 L574.3,249.60 L574.8,249.60 L575.3,249.60 L575.8,249.60 L576.3,249.60 L576.8,249.60 L577.3,249.60 L577.8,249.60 L578.3,249.60 L578.8,249.60 L579.3,249.60 L579.8,249.60 L580.3,249.60 L580.8,249.60 L581.3,249.60 L581.8,249.60 L582.3,249.60 L582.8,249.60 L583.3,249.60 L583.8,249.60 L584.3,249.60 L584.8,249.60 L585.3,249.60 L585.8,249.60 L586.3,249.60 L586.8,249.60 L587.3,249.60 L587.8,249.60 L588.3,249.60 L588.8,249.60 L589.3,249.60 L589.8,249.60 L590.3,249.60 L590.8,249.60 L591.3,249.60 L591.8,249.60 L592.3,249.60 L592.8,249.60 L593.3,249.60 L593.8,249.60 L594.3,249.60 L594.8,249.60 L595.3,249.60 L595.8,249.60 L596.3,249.60 L596.8,249.60 L597.3,249.60 L597.8,249.60 L598.3,249.60 L598.8,249.60 L599.3,249.60 L599.8,249.60 L600.3,249.60 L600.8,249.60 L601.3,249.60 L601.8,249.60 L602.3,249.60 L602.8,249.60 L603.3,249.60 L603.8,249.60 L604.3,249.60 L604.8,249.60 L605.3,249.60 L605.8,249.60 L606.3,249.60 L606.8,249.60 L607.3,249.60 L607.8,249.60 L608.3,249.60 L608.8,249.60 L609.3,249.60 L609.8,249.60 L610.3,249.60 L610.8,249.60 L611.3,249.60 L611.8,249.60 L612.3,249.60 L612.8,249.60 L613.3,249.60 L613.8,249.60 L614.3,249.60 L614.8,249.60 L615.3,249.60 L615.8,249.60 L616.3,249.60 L616.8,249.60 L617.3,249.60 L617.8,249.60 L618.3,249.60 L618.8,249.60 L619.3,249.60 L619.8,249.60 L620.3,249.60 L620.8,249.60 L621.3,249.60 L621.8,249.60 L622.3,249.60 L622.8,249.60 L623.3,249.60 L623.8,249.60 L624.3,249.60 L624.8,249.60 L625.3,249.60 L625.8,249.60 L626.3,249.60 L626.8,249.60 L627.3,249.60 L627.8,249.60 L628.3,249.60 L628.8,249.60 L629.3,249.60 L629.8,249.60 L630.3,249.60 L630.8,249.60 L631.3,249.60 L631.8,249.60 L632.3,249.60 L632.8,249.60 L633.3,249.60 L633.8,249.60 L634.3,249.60 L634.8,249.60 L635.3,249.60 L635.8,249.60 L636.3,249.60 L636.8,249.60 L637.3,249.60 L637.8,249.60 L638.3,249.60 L638.8,249.60 L639.3,249.60 L639.8,249.60 L640.3,249.60 L640.8,249.60 L641.3,249.60 L641.8,249.60 L642.3,249.60 L642.8,249.60 L643.3,249.60 L643.8,249.60 L644.3,249.60 L644.8,249.60 L645.3,249.60 L645.8,249.60 L646.3,249.60 L646.8,249.60 L647.3,249.60 L647.8,249.60 L648.3,249.60 L648.8,249.60 L649.3,249.60 L649.8,249.60 L650.3,249.60 L650.8,249.60 L651.3,249.60 L651.8,249.60 L652.3,249.60 L652.8,249.60 L653.3,249.60 L653.8,249.60 L654.3,249.60 L654.8,249.60 L655.3,249.60 L655.8,249.60 L656.3,249.60 L656.8,249.60 L657.3,249.60 L657.8,249.60 L658.3,249.60 L658.8,249.60 L659.3,249.60 L659.8,249.60 L660.3,249.60 L660.8,249.60 L661.3,249.60 L661.8,249.60 L662.3,249.60 L662.8,249.60 L663.3,249.60 L663.8,249.60 L664.3,249.60 L664.8,249.60 L665.3,249.60 L665.8,249.60 L666.3,249.60 L666.8,249.60 L667.3,249.60 L667.8,249.60 L668.3,249.60 L668.8,249.60 L669.3,249.60 L669.8,249.60 L670.3,249.60 L670.8,249.60 L671.3,249.60 L671.8,249.60 L672.3,249.60 L672.8,249.60 L673.3,249.60 L673.8,249.60 L674.3,249.60 L674.8,249.60 L675.3,249.60 L675.8,249.60 L676.3,249.60 L676.8,249.60 L677.3,249.60 L677.8,249.60 L678.3,249.60 L678.8,249.60 L679.3,249.60 L679.8,249.60 L680.3,249.60 L680.8,249.60 L681.3,249.60 L681.8,249.60 L682.3,249.60 L682.8,249.60 L683.3,249.60 L683.8,249.60 L684.3,249.60 L684.8,249.60 L685.3,249.60 L685.8,249.60 L686.3,249.60 L686.8,249.60 L687.3,249.60 L687.8,249.60 L688.3,249.60 L688.8,249.60 L689.3,249.60 L689.8,249.60 L690.3,249.60 L690.8,249.60 L691.3,249.60 L691.8,249.60 L692.3,249.60 L692.8,249.60 L693.3,249.60 L693.8,249.60 L694.3,249.60 L694.8,249.60 L695.3,249.60 L695.8,249.60 L696.3,249.60 L696.8,249.60 L697.3,249.60 L697.8,249.60 L698.3,249.60 L698.8,249.60 L699.3,249.60 L699.8,249.60 L700.3,249.60 L700.8,249.60 L701.3,249.60 L701.8,249.60 L702.3,249.60 L702.8,249.60 L703.3,249.60 L703.8,249.60 L704.3,249.60 L704.8,249.60 L705.3,249.60 L705.8,249.60 L706.3,249.60 L706.8,249.60 L707.3,249.60 L707.8,249.60 L708.3,249.60 L708.8,249.60 L709.3,249.60 L709.8,249.60 L710.3,249.60 L710.8,249.60 L711.3,249.60 L711.8,249.60 L712.3,249.60 L712.8,249.60 L713.3,249.60 L713.8,249.60 L714.3,249.60 L714.8,249.60 L715.3,249.60 L715.8,249.60 L716.3,249.60 L716.8,249.60 L717.3,249.60 L717.8,249.60 L718.3,249.60 L718.8,249.60 L719.3,249.60 L719.8,249.60 L720.3,249.60 L720.8,249.60 L721.3,249.60 L721.8,249.60 L722.3,249.60 L722.8,249.60 L723.3,249.60 L723.8,249.60 L724.3,249.60 L724.8,249.60 L725.3,249.60 L725.8,249.60 L726.3,249.60 L726.8,249.60 L727.3,249.60 L727.8,249.60 L728.3,249.60 L728.8,249.60 L729.3,249.60 L729.8,249.60 L730.3,249.60 L730.8,249.60 L731.3,249.60 L731.8,249.60 L732.3,249.60 L732.8,249.60 L733.3,249.60 L733.8,249.60 L734.3,249.60 L734.8,249.60 L735.3,249.60 L735.8,249.60 L736.3,249.60 L736.8,249.60 L737.3,249.60 L737.8,249.60 L738.3,249.60 L738.8,249.60 L739.3,249.60 L739.8,249.60 L740.3,249.60 L740.8,249.60 L741.3,249.60 L741.8,249.60 L742.3,249.60 L742.8,249.60 L743.3,249.60 L743.8,249.60 L744.3,249.60 L744.8,249.60 L745.3,249.60 L745.8,249.60 L746.3,249.60 L746.8,249.60 L747.3,249.60 L747.8,249.60 L748.3,249.60 L748.8,249.60 L749.3,249.60 L749.8,249.60 L750.3,249.60 L750.8,249.60 L751.3,249.60 L751.8,249.60 L752.3,249.60 L752.8,249.60 L753.3,249.60 L753.8,249.60 L754.3,249.60 L754.8,249.60 L755.3,249.60 L755.8,249.60 L756.3,249.60 L756.8,249.60 L757.3,249.60 L757.8,249.60 L758.3,249.60 L758.8,249.60 L759.3,249.60 L759.8,249.60 L760.3,249.60 L760.8,249.60 L761.3,249.60 L761.8,249.60 L762.3,249.60 L762.8,249.60 L763.3,249.60 L763.8,249.60 L764.3,249.60 L764.8,249.60 L765.3,249.60 L765.8,249.60 L766.3,249.60 L766.8,249.60 L767.3,249.60 L767.8,249.60 L768.3,249.60 L768.8,249.60 L769.3,249.60 L769.8,249.60 L770.3,249.60 L770.8,249.60 L771.3,249.60 L771.8,249.60 L772.3,249.60 L772.8,249.60 L773.3,249.60 L773.8,249.60 L774.3,249.60 L774.8,249.60 L775.3,249.60 L775.8,249.60 L776.3,249.60 L776.8,249.60 L777.3,249.60 L777.8,249.60 L778.3,249.60 L778.8,249.60 L779.3,249.60 L779.8,249.60 L780.3,249.60 L780.8,249.60 L781.3,249.60 L781.8,249.60 L782.3,249.60 L782.8,249.60 L783.3,249.60 L783.8,249.60 L784.3,249.60 L784.8,249.60 L785.3,249.60 L785.8,249.60 L786.3,249.60 L786.8,249.60 L787.3,249.60 L787.8,249.60 L788.3,249.60 L788.8,249.59 L789.3,249.58 L789.8,249.56 L790.3,249.52 L790.8,249.44 L791.3,249.31 L791.8,249.09 L792.3,248.73 L792.8,248.17 L793.3,247.33 L793.8,246.14 L794.3,244.50 L794.8,242.34 L795.3,239.63 L795.8,236.39 L796.3,232.72 L796.8,228.77 L797.3,224.80 L797.8,221.11 L798.3,218.01 L798.8,215.80 L799.3,214.70 L799.8,214.82 L800.3,216.16 L800.8,218.57 L801.3,221.81 L801.8,225.58 L802.3,229.57 L802.8,233.48 L803.3,237.08 L803.8,240.22 L804.3,242.81 L804.8,244.86 L805.3,246.41 L805.8,247.53 L806.3,248.30 L806.8,248.81 L807.3,249.14 L807.8,249.34 L808.3,249.46 L808.8,249.53 L809.3,249.56 L809.8,249.58 L810.3,249.59 L810.8,249.60 L811.3,249.60 L811.8,249.60 L812.3,249.60 L812.8,249.60 L813.3,249.60 L813.8,249.60 L814.3,249.60 L814.8,249.60 L815.3,249.60 L815.8,249.60 L816.3,249.60 L816.8,249.60 L816.8,249.6 Z" fill="#fbd9d9" fill-opacity="0.85" stroke="none"/>
<path d="M465.8,237.53 L466.3,240.23 L466.8,242.44 L467.3,244.09 L467.8,245.11 L468.3,245.47 L468.8,245.14 L469.3,244.07 L469.8,242.21 L470.3,239.53 L470.8,236.02 L471.3,231.74 L471.8,226.84 L472.3,221.55 L472.8,216.22 L473.3,211.25 L473.8,207.09 L474.3,204.11 L474.8,202.63 L475.3,202.80 L475.8,204.60 L476.3,207.84 L476.8,212.20 L477.3,217.28 L477.8,222.65 L478.3,227.91 L478.8,232.75 L479.3,236.97 L479.8,240.47 L480.3,243.23 L480.8,245.31 L481.3,246.81 L481.8,247.85 L482.3,248.54 L482.8,248.98 L483.3,249.25 L483.8,249.41 L484.3,249.50 L484.8,249.55 L485.3,249.58 L485.8,249.59 L486.3,249.59 L486.8,249.60 L487.3,249.60 L487.8,249.60 L488.3,249.60 L488.8,249.60 L489.3,249.60 L489.8,249.60 L490.3,249.60 L490.8,249.60 L491.3,249.60 L491.8,249.60 L492.3,249.60 L492.8,249.60 L493.3,249.60 L493.8,249.60 L494.3,249.60 L494.8,249.60 L495.3,249.60 L495.8,249.59 L496.3,249.58 L496.8,249.57 L497.3,249.54 L497.8,249.48 L498.3,249.38 L498.8,249.22 L499.3,248.95 L499.8,248.54 L500.3,247.92 L500.8,247.03 L501.3,245.81 L501.8,244.21 L502.3,242.20 L502.8,239.79 L503.3,237.06 L503.8,234.13 L504.3,231.18 L504.8,228.44 L505.3,226.13 L505.8,224.49 L506.3,223.67 L506.8,223.77 L507.3,224.76 L507.8,226.55 L508.3,228.96 L508.8,231.76 L509.3,234.72 L509.8,237.63 L510.3,240.30 L510.8,242.63 L511.3,244.56 L511.8,246.08 L512.3,247.23 L512.8,248.06 L513.3,248.63 L513.8,249.01 L514.3,249.26 L514.8,249.41 L515.3,249.50 L515.8,249.54 L516.3,249.57 L516.8,249.59 L517.3,249.59 L517.8,249.60 L518.3,249.60 L518.8,249.60 L519.3,249.60 L519.8,249.60 L520.3,249.60 L520.8,249.60 L521.3,249.60 L521.8,249.60 L522.3,249.60 L522.8,249.60 L523.3,249.60 L523.8,249.60 L524.3,249.60 L524.8,249.60 L525.3,249.60 L525.8,249.60 L526.3,249.60 L526.8,249.60 L527.3,249.59 L527.8,249.59 L528.3,249.58 L528.8,249.56 L529.3,249.51 L529.8,249.44 L530.3,249.32 L530.8,249.11 L531.3,248.78 L531.8,248.29 L532.3,247.57 L532.8,246.57 L533.3,245.22 L533.8,243.50 L534.3,241.41 L534.8,238.98 L535.3,236.31 L535.8,233.55 L536.3,230.89 L536.8,228.56 L537.3,226.76 L537.8,225.68 L538.3,225.42 L538.8,226.00 L539.3,227.37 L539.8,229.37 L540.3,231.79 L540.8,234.40 L541.3,236.95 L541.8,239.20 L542.3,240.97 L542.8,242.09 L543.3,242.43 L543.8,241.88 L544.3,240.39 L544.8,237.92 L545.3,234.50 L545.8,230.22 L546.3,225.28 L546.8,219.96 L547.3,214.64 L547.8,209.76 L548.3,205.75 L548.8,203.02 L549.3,201.84 L549.8,202.32 L550.3,204.40 L550.8,207.85 L551.3,212.29 L551.8,217.25 L552.3,222.24 L552.8,226.80 L553.3,230.53 L553.8,233.14 L554.3,234.43 L554.8,234.32 L555.3,232.84 L555.8,230.12 L556.3,226.40 L556.8,221.99 L557.3,217.32 L557.8,212.84 L558.3,209.03 L558.8,206.28 L559.3,204.92 L559.8,205.10 L560.3,206.82 L560.8,209.90 L561.3,214.05 L561.8,218.88 L562.3,223.98 L562.8,228.98 L563.3,233.59 L563.8,237.60 L564.3,240.92 L564.8,243.54 L565.3,245.52 L565.8,246.95 L566.3,247.94 L566.8,248.59 L567.3,249.01 L567.8,249.27 L568.3,249.42 L568.8,249.51 L569.3,249.55 L569.8,249.58 L570.3,249.59 L570.8,249.59 L571.3,249.60 L571.8,249.60 L572.3,249.60 L572.8,249.60 L573.3,249.60 L573.8,249.60 L574.3,249.60 L574.8,249.60 L575.3,249.60 L575.8,249.60 L576.3,249.60 L576.8,249.60 L577.3,249.60 L577.8,249.60 L578.3,249.60 L578.8,249.60 L579.3,249.60 L579.8,249.60 L580.3,249.60 L580.8,249.60 L581.3,249.60 L581.8,249.60 L582.3,249.60 L582.8,249.60 L583.3,249.60 L583.8,249.60 L584.3,249.60 L584.8,249.60 L585.3,249.60 L585.8,249.60 L586.3,249.60 L586.8,249.60 L587.3,249.60 L587.8,249.60 L588.3,249.60 L588.8,249.60 L589.3,249.60 L589.8,249.60 L590.3,249.60 L590.8,249.60 L591.3,249.60 L591.8,249.60 L592.3,249.59 L592.8,249.58 L593.3,249.56 L593.8,249.52 L594.3,249.45 L594.8,249.33 L595.3,249.12 L595.8,248.78 L596.3,248.24 L596.8,247.44 L597.3,246.27 L597.8,244.66 L598.3,242.53 L598.8,239.82 L599.3,236.55 L599.8,232.80 L600.3,228.72 L600.8,224.56 L601.3,220.63 L601.8,217.25 L602.3,214.73 L602.8,213.34 L603.3,213.20 L603.8,214.33 L604.3,216.60 L604.8,219.76 L605.3,223.50 L605.8,227.44 L606.3,231.22 L606.8,234.53 L607.3,237.10 L607.8,238.73 L608.3,239.31 L608.8,238.77 L609.3,237.12 L609.8,234.41 L610.3,230.80 L610.8,226.52 L611.3,221.88 L611.8,217.25 L612.3,213.06 L612.8,209.71 L613.3,207.54 L613.8,206.80 L614.3,207.56 L614.8,209.75 L615.3,213.14 L615.8,217.41 L616.3,222.18 L616.8,227.06 L617.3,231.71 L617.8,235.90 L618.3,239.48 L618.8,242.38 L619.3,244.63 L619.8,246.30 L620.3,247.49 L620.8,248.29 L621.3,248.82 L621.8,249.15 L622.3,249.35 L622.8,249.47 L623.3,249.53 L623.8,249.57 L624.3,249.58 L624.8,249.59 L625.3,249.60 L625.8,249.60 L626.3,249.60 L626.8,249.60 L627.3,249.60 L627.8,249.60 L628.3,249.60 L628.8,249.60 L629.3,249.60 L629.8,249.60 L630.3,249.60 L630.8,249.60 L631.3,249.60 L631.8,249.60 L632.3,249.60 L632.8,249.60 L633.3,249.60 L633.8,249.60 L634.3,249.60 L634.8,249.60 L635.3,249.60 L635.8,249.60 L636.3,249.60 L636.8,249.60 L637.3,249.60 L637.8,249.60 L638.3,249.60 L638.8,249.60 L639.3,249.60 L639.8,249.60 L640.3,249.60 L640.8,249.60 L641.3,249.60 L641.8,249.60 L642.3,249.60 L642.8,249.60 L643.3,249.60 L643.8,249.60 L644.3,249.60 L644.8,249.60 L645.3,249.60 L645.8,249.60 L646.3,249.60 L646.8,249.60 L647.3,249.60 L647.8,249.60 L648.3,249.60 L648.8,249.60 L649.3,249.60 L649.8,249.60 L650.3,249.60 L650.8,249.60 L651.3,249.60 L651.8,249.60 L652.3,249.60 L652.8,249.60 L653.3,249.60 L653.8,249.60 L654.3,249.60 L654.8,249.60 L655.3,249.60 L655.8,249.60 L656.3,249.60 L656.8,249.59 L657.3,249.58 L657.8,249.56 L658.3,249.53 L658.8,249.47 L659.3,249.36 L659.8,249.17 L660.3,248.88 L660.8,248.43 L661.3,247.76 L661.8,246.81 L662.3,245.52 L662.8,243.84 L663.3,241.74 L663.8,239.27 L664.3,236.48 L664.8,233.53 L665.3,230.61 L665.8,227.93 L666.3,225.75 L666.8,224.26 L667.3,223.62 L667.8,223.89 L668.3,225.06 L668.8,226.99 L669.3,229.49 L669.8,232.35 L670.3,235.31 L670.8,238.18 L671.3,240.80 L671.8,243.05 L672.3,244.90 L672.8,246.34 L673.3,247.42 L673.8,248.19 L674.3,248.72 L674.8,249.07 L675.3,249.29 L675.8,249.43 L676.3,249.51 L676.8,249.55 L677.3,249.58 L677.8,249.59 L678.3,249.59 L678.8,249.60 L679.3,249.60 L679.8,249.60 L680.3,249.60 L680.8,249.60 L681.3,249.60 L681.8,249.60 L682.3,249.60 L682.8,249.60 L683.3,249.60 L683.8,249.60 L684.3,249.60 L684.8,249.60 L685.3,249.60 L685.8,249.60 L686.3,249.60 L686.8,249.60 L687.3,249.60 L687.8,249.60 L688.3,249.60 L688.8,249.60 L689.3,249.60 L689.8,249.60 L690.3,249.60 L690.8,249.60 L691.3,249.60 L691.8,249.60 L692.3,249.60 L692.8,249.60 L693.3,249.60 L693.8,249.60 L694.3,249.60 L694.8,249.60 L695.3,249.59 L695.8,249.59 L696.3,249.57 L696.8,249.55 L697.3,249.50 L697.8,249.41 L698.3,249.25 L698.8,248.99 L699.3,248.56 L699.8,247.89 L700.3,246.90 L700.8,245.47 L701.3,243.52 L701.8,240.95 L702.3,237.72 L702.8,233.87 L703.3,229.49 L703.8,224.78 L704.3,220.06 L704.8,215.66 L705.3,211.96 L705.8,209.33 L706.3,208.02 L706.8,208.17 L707.3,209.76 L707.8,212.63 L708.3,216.49 L708.8,220.99 L709.3,225.74 L709.8,230.40 L710.3,234.68 L710.8,238.42 L711.3,241.51 L711.8,243.96 L712.3,245.80 L712.8,247.13 L713.3,248.05 L713.8,248.66 L714.3,249.05 L714.8,249.29 L715.3,249.43 L715.8,249.51 L716.3,249.56 L716.8,249.58 L717.3,249.59 L717.8,249.60 L718.3,249.60 L718.8,249.60 L719.3,249.60 L719.8,249.60 L720.3,249.60 L720.8,249.60 L721.3,249.60 L721.8,249.60 L722.3,249.60 L722.8,249.60 L723.3,249.60 L723.8,249.60 L724.3,249.60 L724.8,249.60 L725.3,249.60 L725.8,249.60 L726.3,249.60 L726.8,249.60 L727.3,249.60 L727.8,249.60 L728.3,249.60 L728.8,249.59 L729.3,249.58 L729.8,249.57 L730.3,249.54 L730.8,249.49 L731.3,249.40 L731.8,249.26 L732.3,249.03 L732.8,248.68 L733.3,248.17 L733.8,247.44 L734.3,246.46 L734.8,245.20 L735.3,243.65 L735.8,241.82 L736.3,239.80 L736.8,237.68 L737.3,235.61 L737.8,233.75 L738.3,232.28 L738.8,231.33 L739.3,231.00 L739.8,231.33 L740.3,232.28 L740.8,233.75 L741.3,235.61 L741.8,237.68 L742.3,239.80 L742.8,241.82 L743.3,243.65 L743.8,245.20 L744.3,246.46 L744.8,247.44 L745.3,248.17 L745.8,248.68 L746.3,249.03 L746.8,249.26 L747.3,249.40 L747.8,249.49 L748.3,249.53 L748.8,249.54 L749.3,249.53 L749.8,249.48 L750.3,249.38 L750.8,249.20 L751.3,248.90 L751.8,248.41 L752.3,247.64 L752.8,246.50 L753.3,244.87 L753.8,242.63 L754.3,239.68 L754.8,235.99 L755.3,231.57 L755.8,226.54 L756.3,221.15 L756.8,215.73 L757.3,210.69 L757.8,206.46 L758.3,203.44 L758.8,201.94 L759.3,202.11 L759.8,203.93 L760.3,207.22 L760.8,211.65 L761.3,216.80 L761.8,222.25 L762.3,227.59 L762.8,232.50 L763.3,236.79 L763.8,240.33 L764.3,243.13 L764.8,245.24 L765.3,246.77 L765.8,247.82 L766.3,248.52 L766.8,248.97 L767.3,249.25 L767.8,249.41 L768.3,249.50 L768.8,249.55 L769.3,249.57 L769.8,249.59 L770.3,249.59 L770.8,249.60 L771.3,249.60 L771.8,249.60 L772.3,249.60 L772.8,249.60 L773.3,249.60 L773.8,249.60 L774.3,249.60 L774.8,249.60 L775.3,249.60 L775.8,249.60 L776.3,249.60 L776.8,249.60 L777.3,249.60 L777.8,249.60 L778.3,249.60 L778.8,249.60 L779.3,249.60 L779.8,249.60 L780.3,249.60 L780.8,249.60 L781.3,249.60 L781.8,249.60 L782.3,249.60 L782.8,249.60 L783.3,249.60 L783.8,249.60 L784.3,249.60 L784.8,249.60 L785.3,249.60 L785.8,249.60 L786.3,249.60 L786.8,249.60 L787.3,249.60 L787.8,249.60 L788.3,249.60 L788.8,249.60 L789.3,249.60 L789.8,249.60 L790.3,249.60 L790.8,249.60 L791.3,249.60 L791.8,249.60 L792.3,249.60 L792.8,249.60 L793.3,249.60 L793.8,249.60 L794.3,249.60 L794.8,249.60 L795.3,249.60 L795.8,249.60 L796.3,249.60 L796.8,249.60 L797.3,249.60 L797.8,249.60 L798.3,249.60 L798.8,249.60 L799.3,249.60 L799.8,249.59 L800.3,249.59 L800.8,249.58 L801.3,249.55 L801.8,249.50 L802.3,249.42 L802.8,249.26 L803.3,249.01 L803.8,248.59 L804.3,247.95 L804.8,246.99 L805.3,245.61 L805.8,243.72 L806.3,241.24 L806.8,238.12 L807.3,234.40 L807.8,230.16 L808.3,225.62 L808.8,221.05 L809.3,216.80 L809.8,213.23 L810.3,210.68 L810.8,209.42 L811.3,209.56 L811.8,211.09 L812.3,213.85 L812.8,217.57 L813.3,221.88 L813.8,226.42 L814.3,230.83 L814.8,234.82 L815.3,238.20 L815.8,240.84 L816.3,242.70 L816.8,243.80" fill="none" stroke="#3f6fd6" stroke-width="1.0" stroke-linejoin="round"/>
<path d="M465.8,249.60 L466.3,249.60 L466.8,249.60 L467.3,249.60 L467.8,249.60 L468.3,249.60 L468.8,249.60 L469.3,249.60 L469.8,249.60 L470.3,249.60 L470.8,249.60 L471.3,249.60 L471.8,249.60 L472.3,249.60 L472.8,249.59 L473.3,249.58 L473.8,249.56 L474.3,249.53 L474.8,249.47 L475.3,249.35 L475.8,249.16 L476.3,248.85 L476.8,248.37 L477.3,247.63 L477.8,246.57 L478.3,245.11 L478.8,243.16 L479.3,240.70 L479.8,237.73 L480.3,234.31 L480.8,230.60 L481.3,226.82 L481.8,223.24 L482.3,220.16 L482.8,217.88 L483.3,216.61 L483.8,216.49 L484.3,217.54 L484.8,219.64 L485.3,222.57 L485.8,226.08 L486.3,229.84 L486.8,233.59 L487.3,237.07 L487.8,240.14 L488.3,242.71 L488.8,244.76 L489.3,246.32 L489.8,247.45 L490.3,248.24 L490.8,248.77 L491.3,249.11 L491.8,249.32 L492.3,249.45 L492.8,249.52 L493.3,249.56 L493.8,249.58 L494.3,249.59 L494.8,249.60 L495.3,249.60 L495.8,249.60 L496.3,249.60 L496.8,249.60 L497.3,249.60 L497.8,249.60 L498.3,249.60 L498.8,249.60 L499.3,249.60 L499.8,249.60 L500.3,249.60 L500.8,249.60 L501.3,249.60 L501.8,249.60 L502.3,249.60 L502.8,249.60 L503.3,249.60 L503.8,249.60 L504.3,249.60 L504.8,249.60 L505.3,249.60 L505.8,249.59 L506.3,249.59 L506.8,249.57 L507.3,249.54 L507.8,249.49 L508.3,249.40 L508.8,249.24 L509.3,248.97 L509.8,248.55 L510.3,247.91 L510.8,246.96 L511.3,245.62 L511.8,243.82 L512.3,241.49 L512.8,238.62 L513.3,235.26 L513.8,231.53 L514.3,227.62 L514.8,223.80 L515.3,220.38 L515.8,217.66 L516.3,215.91 L516.8,215.30 L517.3,215.91 L517.8,217.66 L518.3,220.38 L518.8,223.80 L519.3,227.62 L519.8,231.53 L520.3,235.26 L520.8,238.62 L521.3,241.49 L521.8,243.82 L522.3,245.62 L522.8,246.96 L523.3,247.91 L523.8,248.55 L524.3,248.97 L524.8,249.24 L525.3,249.40 L525.8,249.49 L526.3,249.54 L526.8,249.57 L527.3,249.59 L527.8,249.59 L528.3,249.60 L528.8,249.60 L529.3,249.60 L529.8,249.60 L530.3,249.60 L530.8,249.60 L531.3,249.60 L531.8,249.60 L532.3,249.60 L532.8,249.60 L533.3,249.60 L533.8,249.60 L534.3,249.60 L534.8,249.60 L535.3,249.60 L535.8,249.60 L536.3,249.60 L536.8,249.60 L537.3,249.60 L537.8,249.60 L538.3,249.60 L538.8,249.60 L539.3,249.60 L539.8,249.60 L540.3,249.60 L540.8,249.60 L541.3,249.60 L541.8,249.60 L542.3,249.60 L542.8,249.60 L543.3,249.60 L543.8,249.60 L544.3,249.60 L544.8,249.60 L545.3,249.60 L545.8,249.60 L546.3,249.60 L546.8,249.60 L547.3,249.60 L547.8,249.60 L548.3,249.60 L548.8,249.60 L549.3,249.60 L549.8,249.60 L550.3,249.60 L550.8,249.60 L551.3,249.60 L551.8,249.60 L552.3,249.60 L552.8,249.60 L553.3,249.60 L553.8,249.60 L554.3,249.60 L554.8,249.60 L555.3,249.60 L555.8,249.60 L556.3,249.60 L556.8,249.60 L557.3,249.60 L557.8,249.60 L558.3,249.60 L558.8,249.60 L559.3,249.60 L559.8,249.60 L560.3,249.60 L560.8,249.60 L561.3,249.60 L561.8,249.60 L562.3,249.60 L562.8,249.60 L563.3,249.60 L563.8,249.60 L564.3,249.60 L564.8,249.60 L565.3,249.60 L565.8,249.60 L566.3,249.60 L566.8,249.60 L567.3,249.60 L567.8,249.60 L568.3,249.60 L568.8,249.60 L569.3,249.60 L569.8,249.60 L570.3,249.60 L570.8,249.60 L571.3,249.60 L571.8,249.60 L572.3,249.60 L572.8,249.60 L573.3,249.60 L573.8,249.60 L574.3,249.60 L574.8,249.60 L575.3,249.60 L575.8,249.60 L576.3,249.60 L576.8,249.60 L577.3,249.60 L577.8,249.60 L578.3,249.60 L578.8,249.60 L579.3,249.60 L579.8,249.60 L580.3,249.60 L580.8,249.60 L581.3,249.60 L581.8,249.60 L582.3,249.60 L582.8,249.59 L583.3,249.58 L583.8,249.56 L584.3,249.53 L584.8,249.46 L585.3,249.34 L585.8,249.12 L586.3,248.76 L586.8,248.19 L587.3,247.30 L587.8,245.99 L588.3,244.12 L588.8,241.58 L589.3,238.27 L589.8,234.16 L590.3,229.29 L590.8,223.82 L591.3,218.02 L591.8,212.27 L592.3,207.01 L592.8,202.72 L593.3,199.79 L593.8,198.54 L594.3,199.08 L594.8,201.36 L595.3,205.16 L595.8,210.08 L596.3,215.69 L596.8,221.52 L597.3,227.16 L597.8,232.30 L598.3,236.72 L598.8,240.35 L599.3,243.19 L599.8,245.31 L600.3,246.83 L600.8,247.88 L601.3,248.56 L601.8,249.00 L602.3,249.26 L602.8,249.42 L603.3,249.51 L603.8,249.55 L604.3,249.58 L604.8,249.59 L605.3,249.60 L605.8,249.60 L606.3,249.60 L606.8,249.60 L607.3,249.60 L607.8,249.60 L608.3,249.60 L608.8,249.60 L609.3,249.60 L609.8,249.60 L610.3,249.60 L610.8,249.60 L611.3,249.60 L611.8,249.60 L612.3,249.60 L612.8,249.60 L613.3,249.60 L613.8,249.60 L614.3,249.60 L614.8,249.60 L615.3,249.60 L615.8,249.60 L616.3,249.60 L616.8,249.60 L617.3,249.60 L617.8,249.60 L618.3,249.60 L618.8,249.60 L619.3,249.60 L619.8,249.60 L620.3,249.60 L620.8,249.60 L621.3,249.60 L621.8,249.60 L622.3,249.60 L622.8,249.60 L623.3,249.60 L623.8,249.60 L624.3,249.60 L624.8,249.60 L625.3,249.60 L625.8,249.60 L626.3,249.60 L626.8,249.60 L627.3,249.60 L627.8,249.60 L628.3,249.60 L628.8,249.60 L629.3,249.60 L629.8,249.60 L630.3,249.60 L630.8,249.60 L631.3,249.60 L631.8,249.60 L632.3,249.60 L632.8,249.60 L633.3,249.60 L633.8,249.60 L634.3,249.60 L634.8,249.60 L635.3,249.60 L635.8,249.59 L636.3,249.58 L636.8,249.56 L637.3,249.53 L637.8,249.46 L638.3,249.33 L638.8,249.12 L639.3,248.76 L639.8,248.19 L640.3,247.32 L640.8,246.04 L641.3,244.24 L641.8,241.81 L642.3,238.67 L642.8,234.81 L643.3,230.29 L643.8,225.26 L644.3,219.99 L644.8,214.85 L645.3,210.24 L645.8,206.58 L646.3,204.22 L646.8,203.40 L647.3,204.22 L647.8,206.58 L648.3,210.24 L648.8,214.85 L649.3,219.99 L649.8,225.26 L650.3,230.29 L650.8,234.81 L651.3,238.67 L651.8,241.81 L652.3,244.24 L652.8,246.04 L653.3,247.32 L653.8,248.19 L654.3,248.76 L654.8,249.12 L655.3,249.33 L655.8,249.46 L656.3,249.53 L656.8,249.56 L657.3,249.58 L657.8,249.59 L658.3,249.60 L658.8,249.60 L659.3,249.60 L659.8,249.60 L660.3,249.60 L660.8,249.60 L661.3,249.60 L661.8,249.60 L662.3,249.60 L662.8,249.60 L663.3,249.60 L663.8,249.60 L664.3,249.60 L664.8,249.60 L665.3,249.60 L665.8,249.60 L666.3,249.59 L666.8,249.58 L667.3,249.56 L667.8,249.52 L668.3,249.45 L668.8,249.33 L669.3,249.13 L669.8,248.80 L670.3,248.29 L670.8,247.53 L671.3,246.44 L671.8,244.94 L672.3,242.97 L672.8,240.50 L673.3,237.55 L673.8,234.19 L674.3,230.59 L674.8,226.96 L675.3,223.59 L675.8,220.76 L676.3,218.73 L676.8,217.70 L677.3,217.78 L677.8,218.93 L678.3,221.01 L678.8,223.77 L679.3,226.90 L679.8,230.04 L680.3,232.86 L680.8,235.07 L681.3,236.47 L681.8,236.91 L682.3,236.36 L682.8,234.87 L683.3,232.60 L683.8,229.78 L684.3,226.69 L684.8,223.69 L685.3,221.09 L685.8,219.22 L686.3,218.28 L686.8,218.40 L687.3,219.56 L687.8,221.64 L688.3,224.39 L688.8,227.51 L689.3,230.64 L689.8,233.47 L690.3,235.67 L690.8,237.01 L691.3,237.31 L691.8,236.45 L692.3,234.42 L692.8,231.30 L693.3,227.26 L693.8,222.59 L694.3,217.64 L694.8,212.86 L695.3,208.71 L695.8,205.60 L696.3,203.88 L696.8,203.74 L697.3,205.19 L697.8,208.10 L698.3,212.17 L698.8,217.02 L699.3,222.24 L699.8,227.42 L700.3,232.25 L700.8,236.51 L701.3,240.06 L701.8,242.89 L702.3,245.05 L702.8,246.62 L703.3,247.72 L703.8,248.45 L704.3,248.93 L704.8,249.22 L705.3,249.39 L705.8,249.49 L706.3,249.54 L706.8,249.57 L707.3,249.59 L707.8,249.59 L708.3,249.60 L708.8,249.60 L709.3,249.60 L709.8,249.60 L710.3,249.60 L710.8,249.60 L711.3,249.60 L711.8,249.60 L712.3,249.60 L712.8,249.60 L713.3,249.60 L713.8,249.60 L714.3,249.60 L714.8,249.60 L715.3,249.60 L715.8,249.60 L716.3,249.60 L716.8,249.60 L717.3,249.60 L717.8,249.60 L718.3,249.60 L718.8,249.60 L719.3,249.60 L719.8,249.60 L720.3,249.60 L720.8,249.60 L721.3,249.60 L721.8,249.60 L722.3,249.60 L722.8,249.60 L723.3,249.60 L723.8,249.60 L724.3,249.60 L724.8,249.60 L725.3,249.60 L725.8,249.60 L726.3,249.60 L726.8,249.60 L727.3,249.60 L727.8,249.60 L728.3,249.60 L728.8,249.60 L729.3,249.60 L729.8,249.60 L730.3,249.60 L730.8,249.60 L731.3,249.60 L731.8,249.60 L732.3,249.60 L732.8,249.60 L733.3,249.60 L733.8,249.60 L734.3,249.60 L734.8,249.60 L735.3,249.60 L735.8,249.60 L736.3,249.60 L736.8,249.60 L737.3,249.60 L737.8,249.60 L738.3,249.59 L738.8,249.58 L739.3,249.56 L739.8,249.52 L740.3,249.45 L740.8,249.33 L741.3,249.12 L741.8,248.78 L742.3,248.26 L742.8,247.48 L743.3,246.36 L743.8,244.83 L744.3,242.82 L744.8,240.29 L745.3,237.26 L745.8,233.83 L746.3,230.14 L746.8,226.43 L747.3,222.98 L747.8,220.09 L748.3,218.02 L748.8,216.99 L749.3,217.11 L749.8,218.36 L750.3,220.61 L750.8,223.64 L751.3,227.16 L751.8,230.89 L752.3,234.54 L752.8,237.90 L753.3,240.83 L753.8,243.26 L754.3,245.17 L754.8,246.62 L755.3,247.66 L755.8,248.38 L756.3,248.86 L756.8,249.17 L757.3,249.35 L757.8,249.45 L758.3,249.49 L758.8,249.48 L759.3,249.43 L759.8,249.32 L760.3,249.11 L760.8,248.77 L761.3,248.24 L761.8,247.45 L762.3,246.32 L762.8,244.76 L763.3,242.72 L763.8,240.16 L764.3,237.09 L764.8,233.60 L765.3,229.86 L765.8,226.10 L766.3,222.60 L766.8,219.66 L767.3,217.56 L767.8,216.50 L768.3,216.59 L768.8,217.80 L769.3,219.99 L769.8,222.88 L770.3,226.17 L770.8,229.47 L771.3,232.44 L771.8,234.75 L772.3,236.14 L772.8,236.44 L773.3,235.53 L773.8,233.43 L774.3,230.21 L774.8,226.10 L775.3,221.38 L775.8,216.45 L776.3,211.77 L776.8,207.79 L777.3,204.94 L777.8,203.52 L778.3,203.70 L778.8,205.48 L779.3,208.66 L779.8,212.94 L780.3,217.92 L780.8,223.18 L781.3,228.34 L781.8,233.08 L782.3,237.22 L782.8,240.65 L783.3,243.35 L783.8,245.39 L784.3,246.86 L784.8,247.88 L785.3,248.56 L785.8,248.99 L786.3,249.26 L786.8,249.41 L787.3,249.50 L787.8,249.55 L788.3,249.58 L788.8,249.59 L789.3,249.59 L789.8,249.60 L790.3,249.60 L790.8,249.60 L791.3,249.60 L791.8,249.60 L792.3,249.60 L792.8,249.60 L793.3,249.60 L793.8,249.60 L794.3,249.60 L794.8,249.60 L795.3,249.60 L795.8,249.60 L796.3,249.60 L796.8,249.60 L797.3,249.60 L797.8,249.60 L798.3,249.60 L798.8,249.60 L799.3,249.60 L799.8,249.60 L800.3,249.60 L800.8,249.60 L801.3,249.60 L801.8,249.60 L802.3,249.60 L802.8,249.60 L803.3,249.60 L803.8,249.60 L804.3,249.60 L804.8,249.60 L805.3,249.60 L805.8,249.60 L806.3,249.60 L806.8,249.60 L807.3,249.60 L807.8,249.60 L808.3,249.60 L808.8,249.60 L809.3,249.60 L809.8,249.60 L810.3,249.60 L810.8,249.60 L811.3,249.60 L811.8,249.60 L812.3,249.60 L812.8,249.60 L813.3,249.60 L813.8,249.60 L814.3,249.60 L814.8,249.60 L815.3,249.60 L815.8,249.60 L816.3,249.60 L816.8,249.60" fill="none" stroke="#34c24a" stroke-width="1.0" stroke-linejoin="round"/>
<path d="M465.8,249.60 L466.3,249.60 L466.8,249.60 L467.3,249.60 L467.8,249.60 L468.3,249.60 L468.8,249.60 L469.3,249.60 L469.8,249.60 L470.3,249.60 L470.8,249.60 L471.3,249.60 L471.8,249.60 L472.3,249.60 L472.8,249.60 L473.3,249.60 L473.8,249.60 L474.3,249.60 L474.8,249.60 L475.3,249.60 L475.8,249.60 L476.3,249.60 L476.8,249.60 L477.3,249.60 L477.8,249.60 L478.3,249.60 L478.8,249.60 L479.3,249.60 L479.8,249.60 L480.3,249.60 L480.8,249.60 L481.3,249.60 L481.8,249.60 L482.3,249.60 L482.8,249.60 L483.3,249.60 L483.8,249.60 L484.3,249.59 L484.8,249.58 L485.3,249.56 L485.8,249.52 L486.3,249.44 L486.8,249.30 L487.3,249.06 L487.8,248.66 L488.3,248.02 L488.8,247.05 L489.3,245.62 L489.8,243.61 L490.3,240.90 L490.8,237.40 L491.3,233.08 L491.8,228.03 L492.3,222.41 L492.8,216.53 L493.3,210.79 L493.8,205.64 L494.3,201.55 L494.8,198.91 L495.3,198.00 L495.8,198.91 L496.3,201.55 L496.8,205.64 L497.3,210.79 L497.8,216.53 L498.3,222.41 L498.8,228.03 L499.3,233.08 L499.8,237.40 L500.3,240.90 L500.8,243.61 L501.3,245.62 L501.8,247.05 L502.3,248.02 L502.8,248.66 L503.3,249.06 L503.8,249.30 L504.3,249.44 L504.8,249.52 L505.3,249.56 L505.8,249.58 L506.3,249.59 L506.8,249.60 L507.3,249.60 L507.8,249.60 L508.3,249.60 L508.8,249.60 L509.3,249.60 L509.8,249.60 L510.3,249.60 L510.8,249.60 L511.3,249.60 L511.8,249.60 L512.3,249.60 L512.8,249.60 L513.3,249.60 L513.8,249.60 L514.3,249.60 L514.8,249.60 L515.3,249.60 L515.8,249.60 L516.3,249.59 L516.8,249.59 L517.3,249.57 L517.8,249.55 L518.3,249.50 L518.8,249.41 L519.3,249.25 L519.8,248.98 L520.3,248.56 L520.8,247.91 L521.3,246.94 L521.8,245.57 L522.3,243.70 L522.8,241.27 L523.3,238.24 L523.8,234.66 L524.3,230.63 L524.8,226.36 L525.3,222.13 L525.8,218.27 L526.3,215.10 L526.8,212.95 L527.3,212.03 L527.8,212.43 L528.3,214.11 L528.8,216.90 L529.3,220.52 L529.8,224.65 L530.3,228.94 L530.8,233.09 L531.3,236.87 L531.8,240.13 L532.3,242.80 L532.8,244.88 L533.3,246.45 L533.8,247.56 L534.3,248.33 L534.8,248.84 L535.3,249.16 L535.8,249.35 L536.3,249.47 L536.8,249.53 L537.3,249.56 L537.8,249.58 L538.3,249.59 L538.8,249.60 L539.3,249.60 L539.8,249.60 L540.3,249.60 L540.8,249.60 L541.3,249.60 L541.8,249.60 L542.3,249.60 L542.8,249.60 L543.3,249.60 L543.8,249.60 L544.3,249.60 L544.8,249.60 L545.3,249.60 L545.8,249.60 L546.3,249.60 L546.8,249.60 L547.3,249.60 L547.8,249.60 L548.3,249.60 L548.8,249.60 L549.3,249.60 L549.8,249.60 L550.3,249.60 L550.8,249.60 L551.3,249.60 L551.8,249.60 L552.3,249.60 L552.8,249.60 L553.3,249.60 L553.8,249.60 L554.3,249.60 L554.8,249.60 L555.3,249.60 L555.8,249.60 L556.3,249.60 L556.8,249.60 L557.3,249.60 L557.8,249.60 L558.3,249.60 L558.8,249.60 L559.3,249.59 L559.8,249.59 L560.3,249.57 L560.8,249.54 L561.3,249.48 L561.8,249.37 L562.3,249.18 L562.8,248.86 L563.3,248.34 L563.8,247.53 L564.3,246.32 L564.8,244.58 L565.3,242.21 L565.8,239.08 L566.3,235.16 L566.8,230.47 L567.3,225.15 L567.8,219.43 L568.3,213.68 L568.8,208.33 L569.3,203.85 L569.8,200.64 L570.3,199.05 L570.8,199.22 L571.3,201.14 L571.8,204.61 L572.3,209.27 L572.8,214.66 L573.3,220.30 L573.8,225.74 L574.3,230.60 L574.8,234.58 L575.3,237.50 L575.8,239.28 L576.3,239.88 L576.8,239.34 L577.3,237.75 L577.8,235.26 L578.3,232.06 L578.8,228.40 L579.3,224.60 L579.8,221.01 L580.3,217.96 L580.8,215.78 L581.3,214.70 L581.8,214.83 L582.3,216.17 L582.8,218.58 L583.3,221.82 L583.8,225.59 L584.3,229.58 L584.8,233.49 L585.3,237.08 L585.8,240.22 L586.3,242.82 L586.8,244.86 L587.3,246.41 L587.8,247.53 L588.3,248.30 L588.8,248.81 L589.3,249.14 L589.8,249.34 L590.3,249.46 L590.8,249.53 L591.3,249.56 L591.8,249.58 L592.3,249.59 L592.8,249.60 L593.3,249.60 L593.8,249.60 L594.3,249.60 L594.8,249.60 L595.3,249.60 L595.8,249.60 L596.3,249.60 L596.8,249.60 L597.3,249.60 L597.8,249.60 L598.3,249.60 L598.8,249.60 L599.3,249.60 L599.8,249.60 L600.3,249.60 L600.8,249.60 L601.3,249.60 L601.8,249.60 L602.3,249.60 L602.8,249.60 L603.3,249.60 L603.8,249.60 L604.3,249.60 L604.8,249.60 L605.3,249.60 L605.8,249.60 L606.3,249.60 L606.8,249.60 L607.3,249.60 L607.8,249.60 L608.3,249.60 L608.8,249.60 L609.3,249.60 L609.8,249.60 L610.3,249.60 L610.8,249.60 L611.3,249.60 L611.8,249.60 L612.3,249.60 L612.8,249.60 L613.3,249.59 L613.8,249.58 L614.3,249.56 L614.8,249.52 L615.3,249.45 L615.8,249.32 L616.3,249.09 L616.8,248.71 L617.3,248.09 L617.8,247.15 L618.3,245.75 L618.8,243.76 L619.3,241.05 L619.8,237.52 L620.3,233.13 L620.8,227.94 L621.3,222.11 L621.8,215.92 L622.3,209.79 L622.8,204.18 L623.3,199.60 L623.8,196.48 L624.3,195.14 L624.8,195.71 L625.3,198.14 L625.8,202.17 L626.3,207.39 L626.8,213.31 L627.3,219.43 L627.8,225.27 L628.3,230.45 L628.8,234.72 L629.3,237.91 L629.8,239.95 L630.3,240.85 L630.8,240.66 L631.3,239.48 L631.8,237.45 L632.3,234.73 L632.8,231.56 L633.3,228.21 L633.8,224.97 L634.3,222.16 L634.8,220.06 L635.3,218.89 L635.8,218.79 L636.3,219.76 L636.8,221.72 L637.3,224.45 L637.8,227.71 L638.3,231.22 L638.8,234.70 L639.3,237.94 L639.8,240.80 L640.3,243.19 L640.8,245.09 L641.3,246.54 L641.8,247.60 L642.3,248.34 L642.8,248.83 L643.3,249.15 L643.8,249.34 L644.3,249.46 L644.8,249.52 L645.3,249.55 L645.8,249.55 L646.3,249.53 L646.8,249.48 L647.3,249.38 L647.8,249.21 L648.3,248.93 L648.8,248.48 L649.3,247.80 L649.8,246.82 L650.3,245.44 L650.8,243.59 L651.3,241.23 L651.8,238.36 L652.3,235.02 L652.8,231.36 L653.3,227.57 L653.8,223.92 L654.3,220.72 L654.8,218.26 L655.3,216.78 L655.8,216.42 L656.3,217.24 L656.8,219.14 L657.3,221.93 L657.8,225.35 L658.3,229.08 L658.8,232.85 L659.3,236.41 L659.8,239.57 L660.3,242.24 L660.8,244.39 L661.3,246.04 L661.8,247.25 L662.3,248.11 L662.8,248.68 L663.3,249.06 L663.8,249.29 L664.3,249.43 L664.8,249.51 L665.3,249.55 L665.8,249.58 L666.3,249.59 L666.8,249.59 L667.3,249.60 L667.8,249.60 L668.3,249.60 L668.8,249.60 L669.3,249.60 L669.8,249.60 L670.3,249.60 L670.8,249.60 L671.3,249.60 L671.8,249.60 L672.3,249.60 L672.8,249.60 L673.3,249.60 L673.8,249.60 L674.3,249.60 L674.8,249.60 L675.3,249.60 L675.8,249.60 L676.3,249.60 L676.8,249.60 L677.3,249.60 L677.8,249.60 L678.3,249.60 L678.8,249.60 L679.3,249.60 L679.8,249.60 L680.3,249.60 L680.8,249.60 L681.3,249.60 L681.8,249.60 L682.3,249.60 L682.8,249.60 L683.3,249.60 L683.8,249.60 L684.3,249.60 L684.8,249.60 L685.3,249.60 L685.8,249.60 L686.3,249.60 L686.8,249.60 L687.3,249.60 L687.8,249.60 L688.3,249.60 L688.8,249.60 L689.3,249.60 L689.8,249.60 L690.3,249.60 L690.8,249.60 L691.3,249.60 L691.8,249.60 L692.3,249.60 L692.8,249.60 L693.3,249.60 L693.8,249.60 L694.3,249.60 L694.8,249.60 L695.3,249.60 L695.8,249.60 L696.3,249.60 L696.8,249.60 L697.3,249.60 L697.8,249.60 L698.3,249.60 L698.8,249.60 L699.3,249.60 L699.8,249.60 L700.3,249.60 L700.8,249.60 L701.3,249.60 L701.8,249.60 L702.3,249.60 L702.8,249.60 L703.3,249.60 L703.8,249.60 L704.3,249.60 L704.8,249.60 L705.3,249.60 L705.8,249.59 L706.3,249.59 L706.8,249.57 L707.3,249.54 L707.8,249.48 L708.3,249.38 L708.8,249.20 L709.3,248.90 L709.8,248.41 L710.3,247.64 L710.8,246.50 L711.3,244.87 L711.8,242.63 L712.3,239.68 L712.8,235.99 L713.3,231.57 L713.8,226.54 L714.3,221.16 L714.8,215.73 L715.3,210.69 L715.8,206.46 L716.3,203.44 L716.8,201.94 L717.3,202.10 L717.8,203.93 L718.3,207.21 L718.8,211.63 L719.3,216.76 L719.8,222.17 L720.3,227.44 L720.8,232.25 L721.3,236.34 L721.8,239.59 L722.3,241.95 L722.8,243.41 L723.3,244.02 L723.8,243.86 L724.3,243.01 L724.8,241.56 L725.3,239.63 L725.8,237.38 L726.3,234.97 L726.8,232.61 L727.3,230.53 L727.8,228.92 L728.3,227.95 L728.8,227.72 L729.3,228.26 L729.8,229.51 L730.3,231.35 L730.8,233.60 L731.3,236.07 L731.8,238.55 L732.3,240.90 L732.8,242.98 L733.3,244.75 L733.8,246.16 L734.3,247.25 L734.8,248.05 L735.3,248.61 L735.8,249.00 L736.3,249.24 L736.8,249.40 L737.3,249.49 L737.8,249.54 L738.3,249.57 L738.8,249.58 L739.3,249.59 L739.8,249.60 L740.3,249.60 L740.8,249.60 L741.3,249.60 L741.8,249.60 L742.3,249.60 L742.8,249.60 L743.3,249.60 L743.8,249.60 L744.3,249.60 L744.8,249.60 L745.3,249.60 L745.8,249.60 L746.3,249.60 L746.8,249.60 L747.3,249.60 L747.8,249.60 L748.3,249.60 L748.8,249.60 L749.3,249.60 L749.8,249.60 L750.3,249.60 L750.8,249.60 L751.3,249.60 L751.8,249.60 L752.3,249.60 L752.8,249.60 L753.3,249.60 L753.8,249.60 L754.3,249.60 L754.8,249.60 L755.3,249.60 L755.8,249.60 L756.3,249.60 L756.8,249.60 L757.3,249.60 L757.8,249.60 L758.3,249.60 L758.8,249.60 L759.3,249.60 L759.8,249.60 L760.3,249.60 L760.8,249.60 L761.3,249.60 L761.8,249.60 L762.3,249.60 L762.8,249.60 L763.3,249.60 L763.8,249.60 L764.3,249.60 L764.8,249.60 L765.3,249.60 L765.8,249.60 L766.3,249.60 L766.8,249.60 L767.3,249.60 L767.8,249.60 L768.3,249.60 L768.8,249.60 L769.3,249.60 L769.8,249.60 L770.3,249.60 L770.8,249.60 L771.3,249.60 L771.8,249.60 L772.3,249.60 L772.8,249.60 L773.3,249.60 L773.8,249.60 L774.3,249.60 L774.8,249.60 L775.3,249.60 L775.8,249.60 L776.3,249.60 L776.8,249.60 L777.3,249.60 L777.8,249.59 L778.3,249.59 L778.8,249.58 L779.3,249.55 L779.8,249.51 L780.3,249.43 L780.8,249.28 L781.3,249.04 L781.8,248.65 L782.3,248.04 L782.8,247.13 L783.3,245.83 L783.8,244.04 L784.3,241.70 L784.8,238.75 L785.3,235.23 L785.8,231.22 L786.3,226.93 L786.8,222.61 L787.3,218.59 L787.8,215.21 L788.3,212.81 L788.8,211.61 L789.3,211.74 L789.8,213.20 L790.3,215.82 L790.8,219.35 L791.3,223.46 L791.8,227.80 L792.3,232.05 L792.8,235.97 L793.3,239.39 L793.8,242.21 L794.3,244.44 L794.8,246.13 L795.3,247.34 L795.8,248.18 L796.3,248.74 L796.8,249.10 L797.3,249.32 L797.8,249.45 L798.3,249.52 L798.8,249.56 L799.3,249.58 L799.8,249.59 L800.3,249.60 L800.8,249.60 L801.3,249.60 L801.8,249.60 L802.3,249.60 L802.8,249.60 L803.3,249.60 L803.8,249.60 L804.3,249.60 L804.8,249.60 L805.3,249.60 L805.8,249.60 L806.3,249.60 L806.8,249.60 L807.3,249.60 L807.8,249.60 L808.3,249.60 L808.8,249.60 L809.3,249.60 L809.8,249.60 L810.3,249.60 L810.8,249.60 L811.3,249.60 L811.8,249.60 L812.3,249.60 L812.8,249.60 L813.3,249.60 L813.8,249.60 L814.3,249.60 L814.8,249.60 L815.3,249.60 L815.8,249.60 L816.3,249.60 L816.8,249.60" fill="none" stroke="#2a2a2a" stroke-width="1.0" stroke-linejoin="round"/>
<path d="M465.8,249.60 L466.3,249.60 L466.8,249.60 L467.3,249.60 L467.8,249.60 L468.3,249.60 L468.8,249.60 L469.3,249.60 L469.8,249.60 L470.3,249.60 L470.8,249.60 L471.3,249.60 L471.8,249.60 L472.3,249.60 L472.8,249.60 L473.3,249.60 L473.8,249.60 L474.3,249.60 L474.8,249.60 L475.3,249.60 L475.8,249.60 L476.3,249.60 L476.8,249.60 L477.3,249.60 L477.8,249.60 L478.3,249.60 L478.8,249.60 L479.3,249.60 L479.8,249.60 L480.3,249.60 L480.8,249.60 L481.3,249.60 L481.8,249.60 L482.3,249.60 L482.8,249.60 L483.3,249.60 L483.8,249.60 L484.3,249.60 L484.8,249.60 L485.3,249.60 L485.8,249.60 L486.3,249.60 L486.8,249.60 L487.3,249.60 L487.8,249.60 L488.3,249.60 L488.8,249.60 L489.3,249.60 L489.8,249.60 L490.3,249.60 L490.8,249.60 L491.3,249.60 L491.8,249.60 L492.3,249.60 L492.8,249.60 L493.3,249.60 L493.8,249.60 L494.3,249.60 L494.8,249.60 L495.3,249.60 L495.8,249.60 L496.3,249.60 L496.8,249.60 L497.3,249.60 L497.8,249.60 L498.3,249.60 L498.8,249.60 L499.3,249.60 L499.8,249.60 L500.3,249.60 L500.8,249.60 L501.3,249.60 L501.8,249.60 L502.3,249.60 L502.8,249.60 L503.3,249.60 L503.8,249.60 L504.3,249.60 L504.8,249.60 L505.3,249.60 L505.8,249.60 L506.3,249.60 L506.8,249.60 L507.3,249.60 L507.8,249.60 L508.3,249.60 L508.8,249.60 L509.3,249.60 L509.8,249.60 L510.3,249.60 L510.8,249.60 L511.3,249.60 L511.8,249.60 L512.3,249.60 L512.8,249.60 L513.3,249.60 L513.8,249.60 L514.3,249.60 L514.8,249.60 L515.3,249.60 L515.8,249.60 L516.3,249.60 L516.8,249.60 L517.3,249.60 L517.8,249.60 L518.3,249.60 L518.8,249.60 L519.3,249.60 L519.8,249.60 L520.3,249.60 L520.8,249.60 L521.3,249.60 L521.8,249.60 L522.3,249.60 L522.8,249.60 L523.3,249.60 L523.8,249.60 L524.3,249.60 L524.8,249.60 L525.3,249.60 L525.8,249.60 L526.3,249.60 L526.8,249.60 L527.3,249.60 L527.8,249.60 L528.3,249.60 L528.8,249.60 L529.3,249.60 L529.8,249.60 L530.3,249.60 L530.8,249.60 L531.3,249.60 L531.8,249.60 L532.3,249.60 L532.8,249.60 L533.3,249.60 L533.8,249.60 L534.3,249.60 L534.8,249.60 L535.3,249.60 L535.8,249.60 L536.3,249.60 L536.8,249.60 L537.3,249.60 L537.8,249.60 L538.3,249.60 L538.8,249.60 L539.3,249.60 L539.8,249.60 L540.3,249.60 L540.8,249.60 L541.3,249.60 L541.8,249.60 L542.3,249.60 L542.8,249.60 L543.3,249.60 L543.8,249.60 L544.3,249.60 L544.8,249.60 L545.3,249.60 L545.8,249.60 L546.3,249.60 L546.8,249.60 L547.3,249.60 L547.8,249.60 L548.3,249.60 L548.8,249.60 L549.3,249.60 L549.8,249.60 L550.3,249.60 L550.8,249.60 L551.3,249.60 L551.8,249.60 L552.3,249.60 L552.8,249.60 L553.3,249.60 L553.8,249.60 L554.3,249.60 L554.8,249.60 L555.3,249.60 L555.8,249.60 L556.3,249.60 L556.8,249.60 L557.3,249.60 L557.8,249.60 L558.3,249.60 L558.8,249.60 L559.3,249.60 L559.8,249.60 L560.3,249.60 L560.8,249.60 L561.3,249.60 L561.8,249.60 L562.3,249.60 L562.8,249.60 L563.3,249.60 L563.8,249.60 L564.3,249.60 L564.8,249.60 L565.3,249.60 L565.8,249.60 L566.3,249.60 L566.8,249.60 L567.3,249.60 L567.8,249.60 L568.3,249.60 L568.8,249.60 L569.3,249.60 L569.8,249.60 L570.3,249.60 L570.8,249.60 L571.3,249.60 L571.8,249.60 L572.3,249.60 L572.8,249.60 L573.3,249.60 L573.8,249.60 L574.3,249.60 L574.8,249.60 L575.3,249.60 L575.8,249.60 L576.3,249.60 L576.8,249.60 L577.3,249.60 L577.8,249.60 L578.3,249.60 L578.8,249.60 L579.3,249.60 L579.8,249.60 L580.3,249.60 L580.8,249.60 L581.3,249.60 L581.8,249.60 L582.3,249.60 L582.8,249.60 L583.3,249.60 L583.8,249.60 L584.3,249.60 L584.8,249.60 L585.3,249.60 L585.8,249.60 L586.3,249.60 L586.8,249.60 L587.3,249.60 L587.8,249.60 L588.3,249.60 L588.8,249.60 L589.3,249.60 L589.8,249.60 L590.3,249.60 L590.8,249.60 L591.3,249.60 L591.8,249.60 L592.3,249.60 L592.8,249.60 L593.3,249.60 L593.8,249.60 L594.3,249.60 L594.8,249.60 L595.3,249.60 L595.8,249.60 L596.3,249.60 L596.8,249.60 L597.3,249.60 L597.8,249.60 L598.3,249.60 L598.8,249.60 L599.3,249.60 L599.8,249.60 L600.3,249.60 L600.8,249.60 L601.3,249.60 L601.8,249.60 L602.3,249.60 L602.8,249.60 L603.3,249.60 L603.8,249.60 L604.3,249.60 L604.8,249.60 L605.3,249.60 L605.8,249.60 L606.3,249.60 L606.8,249.60 L607.3,249.60 L607.8,249.60 L608.3,249.60 L608.8,249.60 L609.3,249.60 L609.8,249.60 L610.3,249.60 L610.8,249.60 L611.3,249.60 L611.8,249.60 L612.3,249.60 L612.8,249.60 L613.3,249.60 L613.8,249.60 L614.3,249.60 L614.8,249.60 L615.3,249.60 L615.8,249.60 L616.3,249.60 L616.8,249.60 L617.3,249.60 L617.8,249.60 L618.3,249.60 L618.8,249.60 L619.3,249.60 L619.8,249.60 L620.3,249.60 L620.8,249.60 L621.3,249.60 L621.8,249.60 L622.3,249.60 L622.8,249.60 L623.3,249.60 L623.8,249.60 L624.3,249.60 L624.8,249.60 L625.3,249.60 L625.8,249.60 L626.3,249.60 L626.8,249.60 L627.3,249.60 L627.8,249.60 L628.3,249.60 L628.8,249.60 L629.3,249.60 L629.8,249.60 L630.3,249.60 L630.8,249.60 L631.3,249.60 L631.8,249.60 L632.3,249.60 L632.8,249.60 L633.3,249.60 L633.8,249.60 L634.3,249.60 L634.8,249.60 L635.3,249.60 L635.8,249.60 L636.3,249.60 L636.8,249.60 L637.3,249.60 L637.8,249.60 L638.3,249.60 L638.8,249.60 L639.3,249.60 L639.8,249.60 L640.3,249.60 L640.8,249.60 L641.3,249.60 L641.8,249.60 L642.3,249.60 L642.8,249.60 L643.3,249.60 L643.8,249.60 L644.3,249.60 L644.8,249.60 L645.3,249.60 L645.8,249.60 L646.3,249.60 L646.8,249.60 L647.3,249.60 L647.8,249.60 L648.3,249.60 L648.8,249.60 L649.3,249.60 L649.8,249.60 L650.3,249.60 L650.8,249.60 L651.3,249.60 L651.8,249.60 L652.3,249.60 L652.8,249.60 L653.3,249.60 L653.8,249.60 L654.3,249.60 L654.8,249.60 L655.3,249.60 L655.8,249.60 L656.3,249.60 L656.8,249.60 L657.3,249.60 L657.8,249.60 L658.3,249.60 L658.8,249.60 L659.3,249.60 L659.8,249.60 L660.3,249.60 L660.8,249.60 L661.3,249.60 L661.8,249.60 L662.3,249.60 L662.8,249.60 L663.3,249.60 L663.8,249.60 L664.3,249.60 L664.8,249.60 L665.3,249.60 L665.8,249.60 L666.3,249.60 L666.8,249.60 L667.3,249.60 L667.8,249.60 L668.3,249.60 L668.8,249.60 L669.3,249.60 L669.8,249.60 L670.3,249.60 L670.8,249.60 L671.3,249.60 L671.8,249.60 L672.3,249.60 L672.8,249.60 L673.3,249.60 L673.8,249.60 L674.3,249.60 L674.8,249.60 L675.3,249.60 L675.8,249.60 L676.3,249.60 L676.8,249.60 L677.3,249.60 L677.8,249.60 L678.3,249.60 L678.8,249.60 L679.3,249.60 L679.8,249.60 L680.3,249.60 L680.8,249.60 L681.3,249.60 L681.8,249.60 L682.3,249.60 L682.8,249.60 L683.3,249.60 L683.8,249.60 L684.3,249.60 L684.8,249.60 L685.3,249.60 L685.8,249.60 L686.3,249.60 L686.8,249.60 L687.3,249.60 L687.8,249.60 L688.3,249.60 L688.8,249.60 L689.3,249.60 L689.8,249.60 L690.3,249.60 L690.8,249.60 L691.3,249.60 L691.8,249.60 L692.3,249.60 L692.8,249.60 L693.3,249.60 L693.8,249.60 L694.3,249.60 L694.8,249.60 L695.3,249.60 L695.8,249.60 L696.3,249.60 L696.8,249.60 L697.3,249.60 L697.8,249.60 L698.3,249.60 L698.8,249.60 L699.3,249.60 L699.8,249.60 L700.3,249.60 L700.8,249.60 L701.3,249.60 L701.8,249.60 L702.3,249.60 L702.8,249.60 L703.3,249.60 L703.8,249.60 L704.3,249.60 L704.8,249.60 L705.3,249.60 L705.8,249.60 L706.3,249.60 L706.8,249.60 L707.3,249.60 L707.8,249.60 L708.3,249.60 L708.8,249.60 L709.3,249.60 L709.8,249.60 L710.3,249.60 L710.8,249.60 L711.3,249.60 L711.8,249.60 L712.3,249.60 L712.8,249.60 L713.3,249.60 L713.8,249.60 L714.3,249.60 L714.8,249.60 L715.3,249.60 L715.8,249.60 L716.3,249.60 L716.8,249.60 L717.3,249.60 L717.8,249.60 L718.3,249.60 L718.8,249.60 L719.3,249.60 L719.8,249.60 L720.3,249.60 L720.8,249.60 L721.3,249.60 L721.8,249.60 L722.3,249.60 L722.8,249.60 L723.3,249.60 L723.8,249.60 L724.3,249.60 L724.8,249.60 L725.3,249.60 L725.8,249.60 L726.3,249.60 L726.8,249.60 L727.3,249.60 L727.8,249.60 L728.3,249.60 L728.8,249.60 L729.3,249.60 L729.8,249.60 L730.3,249.60 L730.8,249.60 L731.3,249.60 L731.8,249.60 L732.3,249.60 L732.8,249.60 L733.3,249.60 L733.8,249.60 L734.3,249.60 L734.8,249.60 L735.3,249.60 L735.8,249.60 L736.3,249.60 L736.8,249.60 L737.3,249.60 L737.8,249.60 L738.3,249.60 L738.8,249.60 L739.3,249.60 L739.8,249.60 L740.3,249.60 L740.8,249.60 L741.3,249.60 L741.8,249.60 L742.3,249.60 L742.8,249.60 L743.3,249.60 L743.8,249.60 L744.3,249.60 L744.8,249.60 L745.3,249.60 L745.8,249.60 L746.3,249.60 L746.8,249.60 L747.3,249.60 L747.8,249.60 L748.3,249.60 L748.8,249.60 L749.3,249.60 L749.8,249.60 L750.3,249.60 L750.8,249.60 L751.3,249.60 L751.8,249.60 L752.3,249.60 L752.8,249.60 L753.3,249.60 L753.8,249.60 L754.3,249.60 L754.8,249.60 L755.3,249.60 L755.8,249.60 L756.3,249.60 L756.8,249.60 L757.3,249.60 L757.8,249.60 L758.3,249.60 L758.8,249.60 L759.3,249.60 L759.8,249.60 L760.3,249.60 L760.8,249.60 L761.3,249.60 L761.8,249.60 L762.3,249.60 L762.8,249.60 L763.3,249.60 L763.8,249.60 L764.3,249.60 L764.8,249.60 L765.3,249.60 L765.8,249.60 L766.3,249.60 L766.8,249.60 L767.3,249.60 L767.8,249.60 L768.3,249.60 L768.8,249.60 L769.3,249.60 L769.8,249.60 L770.3,249.60 L770.8,249.60 L771.3,249.60 L771.8,249.60 L772.3,249.60 L772.8,249.60 L773.3,249.60 L773.8,249.60 L774.3,249.60 L774.8,249.60 L775.3,249.60 L775.8,249.60 L776.3,249.60 L776.8,249.60 L777.3,249.60 L777.8,249.60 L778.3,249.60 L778.8,249.60 L779.3,249.60 L779.8,249.60 L780.3,249.60 L780.8,249.60 L781.3,249.60 L781.8,249.60 L782.3,249.60 L782.8,249.60 L783.3,249.60 L783.8,249.60 L784.3,249.60 L784.8,249.60 L785.3,249.60 L785.8,249.60 L786.3,249.60 L786.8,249.60 L787.3,249.60 L787.8,249.60 L788.3,249.60 L788.8,249.59 L789.3,249.58 L789.8,249.56 L790.3,249.52 L790.8,249.44 L791.3,249.31 L791.8,249.09 L792.3,248.73 L792.8,248.17 L793.3,247.33 L793.8,246.14 L794.3,244.50 L794.8,242.34 L795.3,239.63 L795.8,236.39 L796.3,232.72 L796.8,228.77 L797.3,224.80 L797.8,221.11 L798.3,218.01 L798.8,215.80 L799.3,214.70 L799.8,214.82 L800.3,216.16 L800.8,218.57 L801.3,221.81 L801.8,225.58 L802.3,229.57 L802.8,233.48 L803.3,237.08 L803.8,240.22 L804.3,242.81 L804.8,244.86 L805.3,246.41 L805.8,247.53 L806.3,248.30 L806.8,248.81 L807.3,249.14 L807.8,249.34 L808.3,249.46 L808.8,249.53 L809.3,249.56 L809.8,249.58 L810.3,249.59 L810.8,249.60 L811.3,249.60 L811.8,249.60 L812.3,249.60 L812.8,249.60 L813.3,249.60 L813.8,249.60 L814.3,249.60 L814.8,249.60 L815.3,249.60 L815.8,249.60 L816.3,249.60 L816.8,249.60" fill="none" stroke="#e23a3a" stroke-width="1.0" stroke-linejoin="round"/>
</g>
<line x1="482.00" y1="194.00" x2="482.00" y2="249.60" stroke="#bdbdbd" stroke-width="0.6" stroke-dasharray="1.5,1.2"/>
<line x1="592.00" y1="194.00" x2="592.00" y2="249.60" stroke="#bdbdbd" stroke-width="0.6" stroke-dasharray="1.5,1.2"/>
<line x1="695.00" y1="194.00" x2="695.00" y2="249.60" stroke="#bdbdbd" stroke-width="0.6" stroke-dasharray="1.5,1.2"/>
<line x1="797.70" y1="194.00" x2="797.70" y2="249.60" stroke="#bdbdbd" stroke-width="0.6" stroke-dasharray="1.5,1.2"/>
<line x1="467.80" y1="249.80" x2="814.80" y2="249.80" stroke="#e03030" stroke-width="1.0" />
<line x1="467.80" y1="250.60" x2="814.80" y2="250.60" stroke="#555" stroke-width="0.5" />
<text x="473.90" y="264.60" font-family="Liberation Sans, sans-serif" font-size="8.8" font-weight="bold" fill="#4a74d0" text-anchor="middle"  stroke="#4a74d0" stroke-width="0.3">C</text>
<text x="483.10" y="264.60" font-family="Liberation Sans, sans-serif" font-size="8.8" font-weight="bold" fill="#3cc84a" text-anchor="middle"  stroke="#3cc84a" stroke-width="0.3">A</text>
<text x="493.70" y="264.60" font-family="Liberation Sans, sans-serif" font-size="8.8" font-weight="bold" fill="#3a3a3a" text-anchor="middle"  stroke="#3a3a3a" stroke-width="0.3">G</text>
<text x="506.00" y="264.60" font-family="Liberation Sans, sans-serif" font-size="8.8" font-weight="bold" fill="#4a74d0" text-anchor="middle"  stroke="#4a74d0" stroke-width="0.3">C</text>
<text x="516.10" y="264.60" font-family="Liberation Sans, sans-serif" font-size="8.8" font-weight="bold" fill="#3cc84a" text-anchor="middle"  stroke="#3cc84a" stroke-width="0.3">A</text>
<text x="526.70" y="264.60" font-family="Liberation Sans, sans-serif" font-size="8.8" font-weight="bold" fill="#3a3a3a" text-anchor="middle"  stroke="#3a3a3a" stroke-width="0.3">G</text>
<text x="537.00" y="264.60" font-family="Liberation Sans, sans-serif" font-size="8.8" font-weight="bold" fill="#4a74d0" text-anchor="middle"  stroke="#4a74d0" stroke-width="0.3">C</text>
<text x="547.60" y="264.60" font-family="Liberation Sans, sans-serif" font-size="8.8" font-weight="bold" fill="#4a74d0" text-anchor="middle"  stroke="#4a74d0" stroke-width="0.3">C</text>
<text x="558.10" y="264.60" font-family="Liberation Sans, sans-serif" font-size="8.8" font-weight="bold" fill="#4a74d0" text-anchor="middle"  stroke="#4a74d0" stroke-width="0.3">C</text>
<text x="569.40" y="264.60" font-family="Liberation Sans, sans-serif" font-size="8.8" font-weight="bold" fill="#3a3a3a" text-anchor="middle"  stroke="#3a3a3a" stroke-width="0.3">G</text>
<text x="580.60" y="264.60" font-family="Liberation Sans, sans-serif" font-size="8.8" font-weight="bold" fill="#3a3a3a" text-anchor="middle"  stroke="#3a3a3a" stroke-width="0.3">G</text>
<text x="593.20" y="264.60" font-family="Liberation Sans, sans-serif" font-size="8.8" font-weight="bold" fill="#3cc84a" text-anchor="middle"  stroke="#3cc84a" stroke-width="0.3">A</text>
<text x="602.60" y="264.60" font-family="Liberation Sans, sans-serif" font-size="8.8" font-weight="bold" fill="#4a74d0" text-anchor="middle"  stroke="#4a74d0" stroke-width="0.3">C</text>
<text x="613.20" y="264.60" font-family="Liberation Sans, sans-serif" font-size="8.8" font-weight="bold" fill="#4a74d0" text-anchor="middle"  stroke="#4a74d0" stroke-width="0.3">C</text>
<text x="622.80" y="264.60" font-family="Liberation Sans, sans-serif" font-size="8.8" font-weight="bold" fill="#3a3a3a" text-anchor="middle"  stroke="#3a3a3a" stroke-width="0.3">G</text>
<text x="635.90" y="264.60" font-family="Liberation Sans, sans-serif" font-size="8.8" font-weight="bold" fill="#3a3a3a" text-anchor="middle"  stroke="#3a3a3a" stroke-width="0.3">G</text>
<text x="646.00" y="264.60" font-family="Liberation Sans, sans-serif" font-size="8.8" font-weight="bold" fill="#3cc84a" text-anchor="middle"  stroke="#3cc84a" stroke-width="0.3">A</text>
<text x="654.60" y="264.60" font-family="Liberation Sans, sans-serif" font-size="8.8" font-weight="bold" fill="#3a3a3a" text-anchor="middle"  stroke="#3a3a3a" stroke-width="0.3">G</text>
<text x="666.30" y="264.60" font-family="Liberation Sans, sans-serif" font-size="8.8" font-weight="bold" fill="#4a74d0" text-anchor="middle"  stroke="#4a74d0" stroke-width="0.3">C</text>
<text x="675.50" y="264.60" font-family="Liberation Sans, sans-serif" font-size="8.8" font-weight="bold" fill="#3cc84a" text-anchor="middle"  stroke="#3cc84a" stroke-width="0.3">A</text>
<text x="684.90" y="264.60" font-family="Liberation Sans, sans-serif" font-size="8.8" font-weight="bold" fill="#3cc84a" text-anchor="middle"  stroke="#3cc84a" stroke-width="0.3">A</text>
<text x="694.60" y="264.60" font-family="Liberation Sans, sans-serif" font-size="8.8" font-weight="bold" fill="#3cc84a" text-anchor="middle"  stroke="#3cc84a" stroke-width="0.3">A</text>
<text x="704.70" y="264.60" font-family="Liberation Sans, sans-serif" font-size="8.8" font-weight="bold" fill="#4a74d0" text-anchor="middle"  stroke="#4a74d0" stroke-width="0.3">C</text>
<text x="716.40" y="264.60" font-family="Liberation Sans, sans-serif" font-size="8.8" font-weight="bold" fill="#3a3a3a" text-anchor="middle"  stroke="#3a3a3a" stroke-width="0.3">G</text>
<text x="728.00" y="264.60" font-family="Liberation Sans, sans-serif" font-size="8.8" font-weight="bold" fill="#3a3a3a" text-anchor="middle"  stroke="#3a3a3a" stroke-width="0.3">G</text>
<text x="738.10" y="264.60" font-family="Liberation Sans, sans-serif" font-size="8.8" font-weight="bold" fill="#4a74d0" text-anchor="middle"  stroke="#4a74d0" stroke-width="0.3">C</text>
<text x="747.40" y="264.60" font-family="Liberation Sans, sans-serif" font-size="8.8" font-weight="bold" fill="#3cc84a" text-anchor="middle"  stroke="#3cc84a" stroke-width="0.3">A</text>
<text x="757.20" y="264.60" font-family="Liberation Sans, sans-serif" font-size="8.8" font-weight="bold" fill="#4a74d0" text-anchor="middle"  stroke="#4a74d0" stroke-width="0.3">C</text>
<text x="766.40" y="264.60" font-family="Liberation Sans, sans-serif" font-size="8.8" font-weight="bold" fill="#3cc84a" text-anchor="middle"  stroke="#3cc84a" stroke-width="0.3">A</text>
<text x="776.30" y="264.60" font-family="Liberation Sans, sans-serif" font-size="8.8" font-weight="bold" fill="#3cc84a" text-anchor="middle"  stroke="#3cc84a" stroke-width="0.3">A</text>
<text x="788.20" y="264.60" font-family="Liberation Sans, sans-serif" font-size="8.8" font-weight="bold" fill="#3a3a3a" text-anchor="middle"  stroke="#3a3a3a" stroke-width="0.3">G</text>
<text x="799.00" y="264.60" font-family="Liberation Sans, sans-serif" font-size="8.8" font-weight="bold" fill="#e03a3a" text-anchor="middle"  stroke="#e03a3a" stroke-width="0.3">T</text>
<text x="810.00" y="264.60" font-family="Liberation Sans, sans-serif" font-size="8.8" font-weight="bold" fill="#4a74d0" text-anchor="middle"  stroke="#4a74d0" stroke-width="0.3">C</text>
<rect x="468.2" y="254.2" width="160.3" height="13.5" rx="2.2" fill="none" stroke="#8cc850" stroke-width="1.1"/>
<rect x="631" y="254.2" width="184" height="13.5" rx="2.2" fill="none" stroke="#3a5ab0" stroke-width="1.1"/>
<text x="21.70" y="148.40" font-family="Liberation Serif, serif" font-size="17" font-weight="bold" fill="#000" text-anchor="start" >C</text>
<line x1="54.00" y1="151.80" x2="54.00" y2="254.20" stroke="#111" stroke-width="1.15" />
<line x1="53.50" y1="253.70" x2="169.80" y2="253.70" stroke="#111" stroke-width="1.15" />
<line x1="50.00" y1="253.70" x2="54.00" y2="253.70" stroke="#222" stroke-width="0.9" />
<text x="49.20" y="256.30" font-family="Liberation Sans, sans-serif" font-size="7.3" font-weight="bold" fill="#222" text-anchor="end"  stroke="#222" stroke-width="0.3">0.0</text>
<line x1="50.00" y1="219.90" x2="54.00" y2="219.90" stroke="#222" stroke-width="0.9" />
<text x="49.20" y="222.50" font-family="Liberation Sans, sans-serif" font-size="7.3" font-weight="bold" fill="#222" text-anchor="end"  stroke="#222" stroke-width="0.3">0.5</text>
<line x1="50.00" y1="186.10" x2="54.00" y2="186.10" stroke="#222" stroke-width="0.9" />
<text x="49.20" y="188.70" font-family="Liberation Sans, sans-serif" font-size="7.3" font-weight="bold" fill="#222" text-anchor="end"  stroke="#222" stroke-width="0.3">1.0</text>
<line x1="50.00" y1="152.30" x2="54.00" y2="152.30" stroke="#222" stroke-width="0.9" />
<text x="49.20" y="154.90" font-family="Liberation Sans, sans-serif" font-size="7.3" font-weight="bold" fill="#222" text-anchor="end"  stroke="#222" stroke-width="0.3">1.5</text>
<text transform="translate(33.50,204.00) rotate(-90)" font-family="Liberation Sans, sans-serif" font-size="7.6" font-weight="bold" fill="#222" text-anchor="middle" stroke="#222" stroke-width="0.3">Relative RNA expression</text>
<rect x="63.50" y="186.30" width="18.90" height="67.40" fill="#000" stroke="none" stroke-width="0" />
<rect x="82.40" y="188.20" width="19.40" height="65.50" fill="#a4a4a6" stroke="#555" stroke-width="0.6" />
<rect x="120.90" y="186.30" width="18.90" height="67.40" fill="#000" stroke="none" stroke-width="0" />
<rect x="139.80" y="244.50" width="19.40" height="9.20" fill="#a4a4a6" stroke="#555" stroke-width="0.6" />
<line x1="73.00" y1="186.30" x2="73.00" y2="185.60" stroke="#000" stroke-width="0.6" />
<line x1="69.00" y1="185.60" x2="77.00" y2="185.60" stroke="#000" stroke-width="0.6" />
<line x1="92.10" y1="188.20" x2="92.10" y2="187.30" stroke="#666" stroke-width="0.6" />
<line x1="88.10" y1="187.30" x2="96.10" y2="187.30" stroke="#666" stroke-width="0.6" />
<line x1="130.30" y1="186.30" x2="130.30" y2="185.20" stroke="#000" stroke-width="0.6" />
<line x1="126.30" y1="185.20" x2="134.30" y2="185.20" stroke="#000" stroke-width="0.6" />
<line x1="149.50" y1="244.50" x2="149.50" y2="236.20" stroke="#777" stroke-width="0.7" />
<line x1="147.00" y1="236.20" x2="152.00" y2="236.20" stroke="#777" stroke-width="0.7" />
<line x1="82.40" y1="253.70" x2="82.40" y2="256.20" stroke="#000" stroke-width="0.7" />
<line x1="139.80" y1="253.70" x2="139.80" y2="256.20" stroke="#000" stroke-width="0.7" />
<path d="M72.40,183.50 V179.20 H90.20 V183.50" fill="none" stroke="#444" stroke-width="0.6" />
<text x="81.50" y="175.20" font-family="Liberation Sans, sans-serif" font-size="6.8" font-weight="normal" fill="#333" text-anchor="middle" stroke="#333" stroke-width="0.15">ns</text>
<path d="M130.00,184.60 V179.20 H147.40 V184.60" fill="none" stroke="#444" stroke-width="0.6" />
<text x="139.20" y="178.60" font-family="Liberation Sans, sans-serif" font-size="8.5" font-weight="bold" fill="#222" text-anchor="middle" letter-spacing="0.9" stroke="#222" stroke-width="0.3">***</text>
<rect x="115.50" y="152.00" width="10.50" height="3.00" fill="#000" stroke="none" stroke-width="0" />
<rect x="115.50" y="159.80" width="10.50" height="3.00" fill="#a6a6a6" stroke="#777" stroke-width="0.4" />
<text x="130.80" y="155.80" font-family="Liberation Sans, sans-serif" font-size="6.5" font-weight="normal" fill="#222" text-anchor="start" stroke="#222" stroke-width="0.15">RNase R −</text>
<text x="130.80" y="163.80" font-family="Liberation Sans, sans-serif" font-size="6.5" font-weight="normal" fill="#222" text-anchor="start" stroke="#222" stroke-width="0.15">RNase R +</text>
<text x="82.40" y="265.30" font-family="Liberation Serif, serif" font-size="8" font-weight="bold" fill="#222" text-anchor="middle" >circNFIC</text>
<text x="139.80" y="265.30" font-family="Liberation Serif, serif" font-size="8" font-weight="bold" fill="#222" text-anchor="middle" >linearNFIC</text>
<text x="210.00" y="148.60" font-family="Liberation Serif, serif" font-size="17" font-weight="bold" fill="#000" text-anchor="start" >D</text>
<text x="209.30" y="220.70" font-family="Liberation Serif, serif" font-size="17" font-weight="bold" fill="#000" text-anchor="start" >E</text>
<rect x="232.30" y="172.50" width="165.00" height="21.40" fill="url(#gelD)" stroke="none" stroke-width="0" />
<clipPath id="cD"><rect x="232.3" y="172.5" width="165" height="21.4"/></clipPath><g clip-path="url(#cD)">
<rect x="237.0" y="182.6" width="20.5" height="6.8" rx="2" fill="#b0b0b0" opacity="0.85" filter="url(#bl1)"/>
<rect x="270.0" y="176.6" width="21.5" height="6.8" rx="2" fill="#a4a4a4" opacity="0.8" filter="url(#bl1)"/>
<rect x="304.0" y="176.0" width="22.0" height="7.4" rx="2" fill="#c0c0c0" opacity="0.85" filter="url(#bl1)"/>
<rect x="339.5" y="176.4" width="21.5" height="7.0" rx="2" fill="#bcbcbc" opacity="0.85" filter="url(#bl1)"/>
<rect x="366.0" y="180.0" width="6.0" height="2.0" rx="2" fill="#8a8a8a" opacity="0.5" filter="url(#bl2)"/>
</g>
<text x="296.80" y="158.00" font-family="Liberation Serif, serif" font-size="9.6" font-weight="normal" fill="#222" text-anchor="middle" >RNase R −</text>
<text x="368.70" y="158.00" font-family="Liberation Serif, serif" font-size="9.6" font-weight="normal" fill="#222" text-anchor="middle" >RNase R +</text>
<line x1="266.50" y1="160.20" x2="327.00" y2="160.20" stroke="#222" stroke-width="1.1" />
<line x1="335.20" y1="160.20" x2="396.00" y2="160.20" stroke="#222" stroke-width="1.1" />
<path d="M269.0,166.5 L278.0,162.3 L278.0,170.7 Z" fill="#000" stroke="none" stroke-width="0" />
<path d="M290.6,166.5 L282.0,162.3 L282.0,170.7 Z" fill="#000" stroke="none" stroke-width="0" />
<path d="M313.0,166.5 L303.7,162.3 L303.7,170.7 Z" fill="#000" stroke="none" stroke-width="0" />
<path d="M316.0,166.5 L325.3,162.3 L325.3,170.7 Z" fill="#000" stroke="none" stroke-width="0" />
<path d="M337.7,166.5 L347.0,162.3 L347.0,170.7 Z" fill="#000" stroke="none" stroke-width="0" />
<path d="M359.3,166.5 L350.0,162.3 L350.0,170.7 Z" fill="#000" stroke="none" stroke-width="0" />
<path d="M381.6,166.5 L372.5,162.3 L372.5,170.7 Z" fill="#000" stroke="none" stroke-width="0" />
<path d="M384.9,166.5 L393.5,162.3 L393.5,170.7 Z" fill="#000" stroke="none" stroke-width="0" />
<text x="246.30" y="171.40" font-family="Liberation Serif, serif" font-size="7.2" font-weight="normal" fill="#222" text-anchor="middle" >Marker</text>
<text x="202.50" y="188.60" font-family="Liberation Serif, serif" font-size="8.2" font-weight="normal" fill="#222" text-anchor="start" >200 bp</text>
<line x1="226.60" y1="185.70" x2="235.80" y2="185.70" stroke="#111" stroke-width="1.6" />
<rect x="230.80" y="231.10" width="167.70" height="26.50" fill="url(#gelE)" stroke="none" stroke-width="0" />
<clipPath id="cE"><rect x="230.8" y="231.1" width="167.7" height="26.5"/></clipPath><g clip-path="url(#cE)">
<rect x="239.0" y="243.0" width="19.5" height="7.0" rx="2" fill="#5c5c5c" opacity="0.85" filter="url(#bl1)"/>
<rect x="270.0" y="239.6" width="21.0" height="6.4" rx="2" fill="#525252" opacity="0.8" filter="url(#bl1)"/>
<rect x="302.0" y="239.6" width="21.5" height="6.6" rx="2" fill="#5a5a5a" opacity="0.85" filter="url(#bl1)"/>
<rect x="364.5" y="240.0" width="22.0" height="7.4" rx="2" fill="#606060" opacity="0.85" filter="url(#bl1)"/>
</g>
<text x="295.50" y="215.80" font-family="Liberation Serif, serif" font-size="9.6" font-weight="normal" fill="#222" text-anchor="middle" >cDNA</text>
<text x="356.30" y="215.80" font-family="Liberation Serif, serif" font-size="9.6" font-weight="normal" fill="#222" text-anchor="middle" >gDNA</text>
<line x1="268.20" y1="218.90" x2="327.00" y2="218.90" stroke="#222" stroke-width="1.1" />
<line x1="335.20" y1="218.90" x2="393.50" y2="218.90" stroke="#222" stroke-width="1.1" />
<path d="M269.5,226.1 L279.0,221.6 L279.0,230.5 Z" fill="#000" stroke="none" stroke-width="0" />
<path d="M291.3,226.1 L282.0,221.6 L282.0,230.5 Z" fill="#000" stroke="none" stroke-width="0" />
<path d="M312.2,226.1 L303.0,221.6 L303.0,230.5 Z" fill="#000" stroke="none" stroke-width="0" />
<path d="M315.4,226.1 L324.0,221.6 L324.0,230.5 Z" fill="#000" stroke="none" stroke-width="0" />
<path d="M336.0,226.1 L345.2,221.6 L345.2,230.5 Z" fill="#000" stroke="none" stroke-width="0" />
<path d="M357.6,226.1 L348.1,221.6 L348.1,230.5 Z" fill="#000" stroke="none" stroke-width="0" />
<path d="M379.2,226.1 L370.0,221.6 L370.0,230.5 Z" fill="#000" stroke="none" stroke-width="0" />
<path d="M382.4,226.1 L391.6,221.6 L391.6,230.5 Z" fill="#000" stroke="none" stroke-width="0" />
<text x="248.80" y="227.20" font-family="Liberation Serif, serif" font-size="7.3" font-weight="normal" fill="#222" text-anchor="middle" >Marker</text>
<text x="202.50" y="249.40" font-family="Liberation Serif, serif" font-size="8.2" font-weight="normal" fill="#222" text-anchor="start" >200 bp</text>
<line x1="224.80" y1="248.00" x2="231.50" y2="248.00" stroke="#111" stroke-width="1.6" />
<text x="22.30" y="302.00" font-family="Liberation Serif, serif" font-size="17" font-weight="bold" fill="#000" text-anchor="start" >F</text>
<text x="130.40" y="317.50" font-family="Liberation Sans, sans-serif" font-size="10.1" font-weight="bold" fill="#222" text-anchor="middle"  stroke="#222" stroke-width="0.12">HD11</text>
<rect x="81.40" y="376.90" width="32.00" height="7.40" fill="#fe0000" stroke="none" stroke-width="0" />
<rect x="81.40" y="384.30" width="32.00" height="79.70" fill="#0000fe" stroke="none" stroke-width="0" />
<rect x="129.80" y="376.90" width="31.80" height="59.23" fill="#fe0000" stroke="none" stroke-width="0" />
<rect x="129.80" y="436.13" width="31.80" height="27.87" fill="#0000fe" stroke="none" stroke-width="0" />
<rect x="177.50" y="376.90" width="31.70" height="1.31" fill="#fe0000" stroke="none" stroke-width="0" />
<rect x="177.50" y="378.21" width="31.70" height="85.79" fill="#0000fe" stroke="none" stroke-width="0" />
<line x1="73.50" y1="332.85" x2="73.50" y2="464.50" stroke="#000" stroke-width="1.0" />
<line x1="73.00" y1="464.00" x2="221.30" y2="464.00" stroke="#000" stroke-width="1.0" />
<line x1="69.90" y1="464.00" x2="73.50" y2="464.00" stroke="#000" stroke-width="1.0" />
<text x="68.80" y="467.20" font-family="Liberation Sans, sans-serif" font-size="9" font-weight="bold" fill="#222" text-anchor="end" letter-spacing="0.5" stroke="#222" stroke-width="0.12">0.0</text>
<line x1="69.90" y1="420.45" x2="73.50" y2="420.45" stroke="#000" stroke-width="1.0" />
<text x="68.80" y="423.65" font-family="Liberation Sans, sans-serif" font-size="9" font-weight="bold" fill="#222" text-anchor="end" letter-spacing="0.5" stroke="#222" stroke-width="0.12">0.5</text>
<line x1="69.90" y1="376.90" x2="73.50" y2="376.90" stroke="#000" stroke-width="1.0" />
<text x="68.80" y="380.10" font-family="Liberation Sans, sans-serif" font-size="9" font-weight="bold" fill="#222" text-anchor="end" letter-spacing="0.5" stroke="#222" stroke-width="0.12">1.0</text>
<line x1="69.90" y1="333.35" x2="73.50" y2="333.35" stroke="#000" stroke-width="1.0" />
<text x="68.80" y="336.55" font-family="Liberation Sans, sans-serif" font-size="9" font-weight="bold" fill="#222" text-anchor="end" letter-spacing="0.5" stroke="#222" stroke-width="0.12">1.5</text>
<line x1="97.40" y1="464.00" x2="97.40" y2="466.80" stroke="#111" stroke-width="0.9" />
<line x1="145.70" y1="464.00" x2="145.70" y2="466.80" stroke="#111" stroke-width="0.9" />
<line x1="193.35" y1="464.00" x2="193.35" y2="466.80" stroke="#111" stroke-width="0.9" />
<text transform="translate(50.20,398.60) rotate(-90)" font-family="Liberation Sans, sans-serif" font-size="9.93" font-weight="bold" fill="#222" text-anchor="middle" stroke="#222" stroke-width="0.12">Relative circNFIC expression</text>
<text x="97.40" y="476.60" font-family="Liberation Sans, sans-serif" font-size="9.7" font-weight="bold" fill="#222" text-anchor="middle"  stroke="#222" stroke-width="0.12">circNFIC</text>
<text x="145.60" y="476.60" font-family="Liberation Sans, sans-serif" font-size="9.7" font-weight="bold" fill="#222" text-anchor="middle"  stroke="#222" stroke-width="0.12">GAPDH</text>
<text x="193.30" y="476.60" font-family="Liberation Sans, sans-serif" font-size="9.7" font-weight="bold" fill="#222" text-anchor="middle"  stroke="#222" stroke-width="0.12">U6</text>
<rect x="146.30" y="324.00" width="13.90" height="6.30" fill="#0000fe" stroke="none" stroke-width="0" />
<rect x="146.30" y="339.00" width="13.90" height="6.60" fill="#fe0000" stroke="none" stroke-width="0" />
<text x="168.00" y="331.00" font-family="Liberation Sans, sans-serif" font-size="10.3" font-weight="normal" fill="#222" text-anchor="start" >Nucleus</text>
<text x="168.00" y="345.80" font-family="Liberation Sans, sans-serif" font-size="10.3" font-weight="normal" fill="#222" text-anchor="start" >Cytoplasm</text>
<text x="282.20" y="301.70" font-family="Liberation Serif, serif" font-size="17" font-weight="bold" fill="#000" text-anchor="start" >G</text>
<text x="403.40" y="309.30" font-family="Liberation Sans, sans-serif" font-size="9.8" font-weight="bold" fill="#222" text-anchor="middle"  stroke="#222" stroke-width="0.12">DF-1</text>
<rect x="360.60" y="371.00" width="30.80" height="12.73" fill="#fe0000" stroke="none" stroke-width="0" />
<rect x="360.60" y="383.73" width="30.80" height="72.17" fill="#0000fe" stroke="none" stroke-width="0" />
<rect x="407.20" y="371.00" width="31.00" height="63.25" fill="#fe0000" stroke="none" stroke-width="0" />
<rect x="407.20" y="434.25" width="31.00" height="21.65" fill="#0000fe" stroke="none" stroke-width="0" />
<rect x="454.00" y="371.00" width="30.50" height="8.07" fill="#fe0000" stroke="none" stroke-width="0" />
<rect x="454.00" y="379.07" width="30.50" height="76.83" fill="#0000fe" stroke="none" stroke-width="0" />
<line x1="352.60" y1="328.05" x2="352.60" y2="456.40" stroke="#000" stroke-width="1.0" />
<line x1="352.10" y1="455.90" x2="492.00" y2="455.90" stroke="#000" stroke-width="1.0" />
<line x1="349.00" y1="455.90" x2="352.60" y2="455.90" stroke="#000" stroke-width="1.0" />
<text x="348.30" y="459.10" font-family="Liberation Sans, sans-serif" font-size="9" font-weight="bold" fill="#222" text-anchor="end" letter-spacing="0.5" stroke="#222" stroke-width="0.12">0.0</text>
<line x1="349.00" y1="413.45" x2="352.60" y2="413.45" stroke="#000" stroke-width="1.0" />
<text x="348.30" y="416.65" font-family="Liberation Sans, sans-serif" font-size="9" font-weight="bold" fill="#222" text-anchor="end" letter-spacing="0.5" stroke="#222" stroke-width="0.12">0.5</text>
<line x1="349.00" y1="371.00" x2="352.60" y2="371.00" stroke="#000" stroke-width="1.0" />
<text x="348.30" y="374.20" font-family="Liberation Sans, sans-serif" font-size="9" font-weight="bold" fill="#222" text-anchor="end" letter-spacing="0.5" stroke="#222" stroke-width="0.12">1.0</text>
<line x1="349.00" y1="328.55" x2="352.60" y2="328.55" stroke="#000" stroke-width="1.0" />
<text x="348.30" y="331.75" font-family="Liberation Sans, sans-serif" font-size="9" font-weight="bold" fill="#222" text-anchor="end" letter-spacing="0.5" stroke="#222" stroke-width="0.12">1.5</text>
<line x1="376.00" y1="455.90" x2="376.00" y2="458.70" stroke="#111" stroke-width="0.9" />
<line x1="422.70" y1="455.90" x2="422.70" y2="458.70" stroke="#111" stroke-width="0.9" />
<line x1="469.25" y1="455.90" x2="469.25" y2="458.70" stroke="#111" stroke-width="0.9" />
<text transform="translate(330.20,392.30) rotate(-90)" font-family="Liberation Sans, sans-serif" font-size="9.67" font-weight="bold" fill="#222" text-anchor="middle" stroke="#222" stroke-width="0.12">Relative circNFIC expression</text>
<text x="375.80" y="467.90" font-family="Liberation Sans, sans-serif" font-size="9.6" font-weight="bold" fill="#222" text-anchor="middle"  stroke="#222" stroke-width="0.12">circNFIC</text>
<text x="422.60" y="467.90" font-family="Liberation Sans, sans-serif" font-size="9.6" font-weight="bold" fill="#222" text-anchor="middle"  stroke="#222" stroke-width="0.12">GAPDH</text>
<text x="468.90" y="467.90" font-family="Liberation Sans, sans-serif" font-size="9.6" font-weight="bold" fill="#222" text-anchor="middle"  stroke="#222" stroke-width="0.12">U6</text>
<rect x="423.60" y="319.00" width="13.90" height="6.40" fill="#0000fe" stroke="none" stroke-width="0" />
<rect x="423.60" y="334.00" width="13.90" height="6.70" fill="#fe0000" stroke="none" stroke-width="0" />
<text x="444.70" y="325.80" font-family="Liberation Sans, sans-serif" font-size="10" font-weight="normal" fill="#222" text-anchor="start" >Nucleus</text>
<text x="444.70" y="341.00" font-family="Liberation Sans, sans-serif" font-size="10" font-weight="normal" fill="#222" text-anchor="start" >Cytoplasm</text>
<text x="560.30" y="301.90" font-family="Liberation Serif, serif" font-size="17" font-weight="bold" fill="#000" text-anchor="start" >H</text>
<line x1="656.50" y1="316.50" x2="656.50" y2="458.90" stroke="#111" stroke-width="1.3" />
<line x1="655.90" y1="458.30" x2="751.40" y2="458.30" stroke="#111" stroke-width="1.3" />
<line x1="650.90" y1="458.30" x2="656.50" y2="458.30" stroke="#111" stroke-width="1.1" />
<text x="648.00" y="461.50" font-family="Liberation Sans, sans-serif" font-size="9" font-weight="bold" fill="#222" text-anchor="end"  stroke="#222" stroke-width="0.12">0</text>
<line x1="650.90" y1="423.00" x2="656.50" y2="423.00" stroke="#111" stroke-width="1.1" />
<text x="648.00" y="426.20" font-family="Liberation Sans, sans-serif" font-size="9" font-weight="bold" fill="#222" text-anchor="end"  stroke="#222" stroke-width="0.12">1</text>
<line x1="650.90" y1="387.70" x2="656.50" y2="387.70" stroke="#111" stroke-width="1.1" />
<text x="648.00" y="390.90" font-family="Liberation Sans, sans-serif" font-size="9" font-weight="bold" fill="#222" text-anchor="end"  stroke="#222" stroke-width="0.12">2</text>
<line x1="650.90" y1="352.40" x2="656.50" y2="352.40" stroke="#111" stroke-width="1.1" />
<text x="648.00" y="355.60" font-family="Liberation Sans, sans-serif" font-size="9" font-weight="bold" fill="#222" text-anchor="end"  stroke="#222" stroke-width="0.12">3</text>
<line x1="650.90" y1="317.10" x2="656.50" y2="317.10" stroke="#111" stroke-width="1.1" />
<text x="648.00" y="320.30" font-family="Liberation Sans, sans-serif" font-size="9" font-weight="bold" fill="#222" text-anchor="end"  stroke="#222" stroke-width="0.12">4</text>
<line x1="683.20" y1="423.00" x2="683.20" y2="416.30" stroke="#000" stroke-width="0.8" />
<line x1="675.70" y1="416.30" x2="690.70" y2="416.30" stroke="#000" stroke-width="0.8" />
<line x1="723.60" y1="356.40" x2="723.60" y2="343.60" stroke="#555" stroke-width="0.8" />
<line x1="716.60" y1="343.60" x2="730.60" y2="343.60" stroke="#555" stroke-width="0.8" />
<rect x="669.80" y="423.00" width="26.80" height="35.30" fill="#000" stroke="none" stroke-width="0" />
<rect x="710.20" y="356.40" width="26.80" height="101.90" fill="#a2a2a4" stroke="#666" stroke-width="0.7" />
<line x1="683.20" y1="458.30" x2="683.20" y2="461.30" stroke="#000" stroke-width="0.8" />
<line x1="723.60" y1="458.30" x2="723.60" y2="461.30" stroke="#000" stroke-width="0.8" />
<path d="M687.80,341.30 V335.50 H724.60 V341.30" fill="none" stroke="#333" stroke-width="0.8" />
<text x="706.60" y="334.50" font-family="Liberation Sans, sans-serif" font-size="16.5" font-weight="bold" fill="#222" text-anchor="middle" letter-spacing="1.7">**</text>
<text transform="translate(623.40,387.40) rotate(-90)" font-family="Liberation Sans, sans-serif" font-size="10.8" font-weight="bold" fill="#222" text-anchor="middle">Relative RNA expression</text>
<text transform="translate(636.40,387.40) rotate(-90)" font-family="Liberation Sans, sans-serif" font-size="10.8" font-weight="bold" fill="#222" text-anchor="middle">(Normalize Control=1)</text>
<text x="703.50" y="475.00" font-family="Liberation Serif, serif" font-size="10.2" font-weight="bold" fill="#222" text-anchor="middle" >circNFIC</text>
<rect x="709.40" y="294.50" width="14.70" height="3.60" fill="#000" stroke="none" stroke-width="0" />
<rect x="709.60" y="308.30" width="14.30" height="3.20" fill="#a3a3a3" stroke="#555" stroke-width="0.6" />
<text x="732.40" y="299.40" font-family="Liberation Sans, sans-serif" font-size="8.65" font-weight="normal" fill="#222" text-anchor="start" >Control</text>
<text x="732.40" y="312.90" font-family="Liberation Sans, sans-serif" font-size="8.65" font-weight="normal" fill="#222" text-anchor="start" >LPS</text>
<text x="32.30" y="502.40" font-family="Liberation Serif, serif" font-size="17" font-weight="bold" fill="#000" text-anchor="start" >I</text>
<line x1="102.40" y1="533.80" x2="102.40" y2="634.20" stroke="#000" stroke-width="1.0" />
<line x1="98.80" y1="534.20" x2="102.40" y2="534.20" stroke="#000" stroke-width="1.0" />
<text x="97.90" y="537.20" font-family="Liberation Sans, sans-serif" font-size="8.4" font-weight="bold" fill="#222" text-anchor="end" letter-spacing="0.45" stroke="#222" stroke-width="0.3">4000</text>
<line x1="98.80" y1="553.80" x2="102.40" y2="553.80" stroke="#000" stroke-width="1.0" />
<text x="97.90" y="556.80" font-family="Liberation Sans, sans-serif" font-size="8.4" font-weight="bold" fill="#222" text-anchor="end" letter-spacing="0.45" stroke="#222" stroke-width="0.3">3800</text>
<line x1="98.80" y1="574.00" x2="102.40" y2="574.00" stroke="#000" stroke-width="1.0" />
<text x="97.90" y="577.00" font-family="Liberation Sans, sans-serif" font-size="8.4" font-weight="bold" fill="#222" text-anchor="end" letter-spacing="0.45" stroke="#222" stroke-width="0.3">3600</text>
<line x1="98.80" y1="593.90" x2="102.40" y2="593.90" stroke="#000" stroke-width="1.0" />
<text x="97.90" y="596.90" font-family="Liberation Sans, sans-serif" font-size="8.4" font-weight="bold" fill="#222" text-anchor="end" letter-spacing="0.45" stroke="#222" stroke-width="0.3">3400</text>
<line x1="98.80" y1="614.10" x2="102.40" y2="614.10" stroke="#000" stroke-width="1.0" />
<text x="97.90" y="617.10" font-family="Liberation Sans, sans-serif" font-size="8.4" font-weight="bold" fill="#222" text-anchor="end" letter-spacing="0.45" stroke="#222" stroke-width="0.3">3200</text>
<line x1="98.80" y1="633.70" x2="102.40" y2="633.70" stroke="#000" stroke-width="1.0" />
<text x="97.90" y="636.70" font-family="Liberation Sans, sans-serif" font-size="8.4" font-weight="bold" fill="#222" text-anchor="end" letter-spacing="0.45" stroke="#222" stroke-width="0.3">3000</text>
<line x1="102.40" y1="642.60" x2="102.40" y2="670.00" stroke="#000" stroke-width="1.0" />
<line x1="98.80" y1="643.00" x2="102.40" y2="643.00" stroke="#000" stroke-width="1.0" />
<text x="97.60" y="646.00" font-family="Liberation Sans, sans-serif" font-size="8.4" font-weight="bold" fill="#222" text-anchor="end"  stroke="#222" stroke-width="0.3">2</text>
<line x1="98.80" y1="656.20" x2="102.40" y2="656.20" stroke="#000" stroke-width="1.0" />
<text x="97.60" y="659.20" font-family="Liberation Sans, sans-serif" font-size="8.4" font-weight="bold" fill="#222" text-anchor="end"  stroke="#222" stroke-width="0.3">1</text>
<line x1="98.80" y1="669.50" x2="102.40" y2="669.50" stroke="#000" stroke-width="1.0" />
<text x="97.60" y="672.50" font-family="Liberation Sans, sans-serif" font-size="8.4" font-weight="bold" fill="#222" text-anchor="end"  stroke="#222" stroke-width="0.3">0</text>
<line x1="98.80" y1="633.70" x2="105.60" y2="633.70" stroke="#000" stroke-width="1.0" />
<line x1="98.80" y1="643.00" x2="105.60" y2="643.00" stroke="#000" stroke-width="1.0" />
<line x1="101.90" y1="669.50" x2="198.30" y2="669.50" stroke="#000" stroke-width="1.0" />
<line x1="127.20" y1="656.20" x2="127.20" y2="646.70" stroke="#000" stroke-width="0.8" />
<line x1="121.20" y1="646.70" x2="133.20" y2="646.70" stroke="#000" stroke-width="0.8" />
<line x1="175.60" y1="565.60" x2="175.60" y2="550.60" stroke="#555" stroke-width="0.8" />
<line x1="169.40" y1="550.60" x2="181.80" y2="550.60" stroke="#555" stroke-width="0.8" />
<rect x="115.10" y="656.20" width="24.00" height="13.30" fill="#000" stroke="none" stroke-width="0" />
<rect x="163.60" y="565.60" width="24.00" height="68.00" fill="#a3a3a3" stroke="#666" stroke-width="0.6" />
<rect x="163.60" y="643.00" width="24.00" height="26.50" fill="#a3a3a3" stroke="#666" stroke-width="0.6" />
<line x1="151.20" y1="669.50" x2="151.20" y2="672.30" stroke="#000" stroke-width="0.8" />
<path d="M133.90,547.70 V542.00 H175.80 V547.70" fill="none" stroke="#333" stroke-width="0.7" />
<text x="154.90" y="540.80" font-family="Liberation Sans, sans-serif" font-size="11" font-weight="bold" fill="#222" text-anchor="middle" letter-spacing="1.0">***</text>
<g stroke="#333" stroke-width="0.18">
<text transform="translate(60.80,601.00) rotate(-90)" font-family="Liberation Sans, sans-serif" font-size="8.0" font-weight="normal" fill="#222" text-anchor="middle">Relative RNA expression</text>
<text transform="translate(70.30,601.00) rotate(-90)" font-family="Liberation Sans, sans-serif" font-size="8.0" font-weight="normal" fill="#222" text-anchor="middle">(Normalize pCD25=1)</text>
</g>
<text x="150.60" y="682.60" font-family="Liberation Serif, serif" font-size="9.3" font-weight="bold" fill="#222" text-anchor="middle" >circNFIC</text>
<rect x="149.80" y="510.80" width="12.40" height="3.70" fill="#000" stroke="none" stroke-width="0" />
<rect x="149.80" y="521.70" width="12.40" height="3.80" fill="#a3a3a3" stroke="#666" stroke-width="0.5" />
<text x="168.80" y="515.10" font-family="Liberation Sans, sans-serif" font-size="7.4" font-weight="normal" fill="#222" text-anchor="start" >pCD25</text>
<text x="168.80" y="526.30" font-family="Liberation Sans, sans-serif" font-size="7.4" font-weight="normal" fill="#222" text-anchor="start" >ov circNFIC</text>
<text x="291.50" y="503.70" font-family="Liberation Serif, serif" font-size="17" font-weight="bold" fill="#000" text-anchor="start" >J</text>
<line x1="363.10" y1="519.90" x2="363.10" y2="669.40" stroke="#111" stroke-width="1.25" />
<line x1="362.60" y1="668.90" x2="476.80" y2="668.90" stroke="#111" stroke-width="1.25" />
<line x1="359.50" y1="668.90" x2="363.10" y2="668.90" stroke="#111" stroke-width="1.25" />
<text x="358.90" y="671.90" font-family="Liberation Sans, sans-serif" font-size="8.6" font-weight="bold" fill="#222" text-anchor="end" letter-spacing="0.45" stroke="#222" stroke-width="0.3">0.0</text>
<line x1="359.50" y1="619.40" x2="363.10" y2="619.40" stroke="#111" stroke-width="1.25" />
<text x="358.90" y="622.40" font-family="Liberation Sans, sans-serif" font-size="8.6" font-weight="bold" fill="#222" text-anchor="end" letter-spacing="0.45" stroke="#222" stroke-width="0.3">0.5</text>
<line x1="359.50" y1="569.90" x2="363.10" y2="569.90" stroke="#111" stroke-width="1.25" />
<text x="358.90" y="572.90" font-family="Liberation Sans, sans-serif" font-size="8.6" font-weight="bold" fill="#222" text-anchor="end" letter-spacing="0.45" stroke="#222" stroke-width="0.3">1.0</text>
<line x1="359.50" y1="520.40" x2="363.10" y2="520.40" stroke="#111" stroke-width="1.25" />
<text x="358.90" y="523.40" font-family="Liberation Sans, sans-serif" font-size="8.6" font-weight="bold" fill="#222" text-anchor="end" letter-spacing="0.45" stroke="#222" stroke-width="0.3">1.5</text>
<line x1="382.00" y1="570.20" x2="382.00" y2="567.30" stroke="#000" stroke-width="0.8" />
<line x1="377.35" y1="567.30" x2="386.65" y2="567.30" stroke="#000" stroke-width="0.8" />
<line x1="419.50" y1="662.60" x2="419.50" y2="661.50" stroke="#200" stroke-width="1.0" />
<line x1="415.00" y1="661.50" x2="424.00" y2="661.50" stroke="#200" stroke-width="1.0" />
<line x1="457.20" y1="660.30" x2="457.20" y2="658.00" stroke="#002" stroke-width="1.0" />
<line x1="452.90" y1="658.00" x2="461.50" y2="658.00" stroke="#002" stroke-width="1.0" />
<rect x="373.00" y="570.20" width="18.40" height="98.70" fill="#000" stroke="none" stroke-width="0" />
<rect x="410.40" y="662.60" width="18.20" height="6.30" fill="#ee1111" stroke="#500" stroke-width="0.8" />
<rect x="448.30" y="660.30" width="17.80" height="8.60" fill="#1111ee" stroke="#004" stroke-width="0.8" />
<line x1="419.50" y1="668.90" x2="419.50" y2="671.90" stroke="#000" stroke-width="0.8" />
<path d="M382,555.1 V548.5 H457.6 V554" fill="none" stroke="#333" stroke-width="0.8" />
<path d="M382,566.6 V560.8 H416 V566.8" fill="none" stroke="#333" stroke-width="0.8" />
<text x="399.30" y="560.10" font-family="Liberation Sans, sans-serif" font-size="11" font-weight="bold" fill="#222" text-anchor="middle" letter-spacing="1.1">***</text>
<text x="420.10" y="546.90" font-family="Liberation Sans, sans-serif" font-size="11" font-weight="bold" fill="#222" text-anchor="middle" letter-spacing="1.1">***</text>
<text transform="translate(325.80,595.00) rotate(-90)" font-family="Liberation Sans, sans-serif" font-size="10.2" font-weight="bold" fill="#222" text-anchor="middle" stroke="#222" stroke-width="0.12">Relative RNA expression</text>
<text transform="translate(338.60,595.00) rotate(-90)" font-family="Liberation Sans, sans-serif" font-size="10.2" font-weight="bold" fill="#222" text-anchor="middle" stroke="#222" stroke-width="0.12">(Normalize si NC=1)</text>
<text x="419.10" y="683.00" font-family="Liberation Serif, serif" font-size="9.3" font-weight="bold" fill="#222" text-anchor="middle" >circNFIC</text>
<rect x="423.80" y="510.10" width="13.50" height="3.50" fill="#000" stroke="none" stroke-width="0" />
<rect x="423.80" y="520.90" width="13.50" height="3.40" fill="#ee1111" stroke="#600" stroke-width="0.5" />
<rect x="423.80" y="530.60" width="13.50" height="3.40" fill="#1111ee" stroke="#006" stroke-width="0.5" />
<text x="444.50" y="515.10" font-family="Liberation Sans, sans-serif" font-size="8.0" font-weight="normal" fill="#222" text-anchor="start" >si NC</text>
<text x="444.50" y="525.50" font-family="Liberation Sans, sans-serif" font-size="8.0" font-weight="normal" fill="#222" text-anchor="start" >si circNFIC−1</text>
<text x="444.50" y="535.50" font-family="Liberation Sans, sans-serif" font-size="8.0" font-weight="normal" fill="#222" text-anchor="start" >si circNFIC−2</text>
<text x="574.00" y="502.40" font-family="Liberation Serif, serif" font-size="17" font-weight="bold" fill="#000" text-anchor="start" >K</text>
<line x1="640.90" y1="539.00" x2="640.90" y2="601.50" stroke="#111" stroke-width="1.25" />
<line x1="635.50" y1="539.60" x2="640.90" y2="539.60" stroke="#111" stroke-width="1.1" />
<text x="634.20" y="542.60" font-family="Liberation Sans, sans-serif" font-size="8.4" font-weight="bold" fill="#222" text-anchor="end" letter-spacing="0.4" stroke="#222" stroke-width="0.3">1200</text>
<line x1="635.50" y1="557.80" x2="640.90" y2="557.80" stroke="#111" stroke-width="1.1" />
<text x="634.20" y="560.80" font-family="Liberation Sans, sans-serif" font-size="8.4" font-weight="bold" fill="#222" text-anchor="end" letter-spacing="0.4" stroke="#222" stroke-width="0.3">1000</text>
<line x1="635.50" y1="575.10" x2="640.90" y2="575.10" stroke="#111" stroke-width="1.1" />
<text x="634.20" y="578.10" font-family="Liberation Sans, sans-serif" font-size="8.4" font-weight="bold" fill="#222" text-anchor="end" letter-spacing="0.4" stroke="#222" stroke-width="0.3">800</text>
<line x1="635.50" y1="592.50" x2="640.90" y2="592.50" stroke="#111" stroke-width="1.1" />
<text x="634.20" y="595.50" font-family="Liberation Sans, sans-serif" font-size="8.4" font-weight="bold" fill="#222" text-anchor="end" letter-spacing="0.4" stroke="#222" stroke-width="0.3">600</text>
<line x1="637.70" y1="601.30" x2="644.10" y2="601.30" stroke="#111" stroke-width="1.0" />
<line x1="637.70" y1="610.80" x2="644.10" y2="610.80" stroke="#111" stroke-width="1.0" />
<line x1="640.90" y1="610.40" x2="640.90" y2="661.60" stroke="#111" stroke-width="1.25" />
<line x1="635.50" y1="610.80" x2="640.90" y2="610.80" stroke="#111" stroke-width="1.1" />
<text x="634.20" y="613.80" font-family="Liberation Sans, sans-serif" font-size="8.4" font-weight="bold" fill="#222" text-anchor="end"  stroke="#222" stroke-width="0.3">2</text>
<line x1="635.50" y1="635.80" x2="640.90" y2="635.80" stroke="#111" stroke-width="1.1" />
<text x="634.20" y="638.80" font-family="Liberation Sans, sans-serif" font-size="8.4" font-weight="bold" fill="#222" text-anchor="end"  stroke="#222" stroke-width="0.3">1</text>
<line x1="635.50" y1="661.00" x2="640.90" y2="661.00" stroke="#111" stroke-width="1.1" />
<text x="634.20" y="664.00" font-family="Liberation Sans, sans-serif" font-size="8.4" font-weight="bold" fill="#222" text-anchor="end"  stroke="#222" stroke-width="0.3">0</text>
<line x1="640.30" y1="661.00" x2="781.00" y2="661.00" stroke="#111" stroke-width="1.25" />
<line x1="661.80" y1="636.00" x2="661.80" y2="629.10" stroke="#000" stroke-width="0.8" />
<line x1="656.80" y1="629.10" x2="666.80" y2="629.10" stroke="#000" stroke-width="0.8" />
<line x1="694.60" y1="563.00" x2="694.60" y2="552.90" stroke="#111" stroke-width="0.9" />
<line x1="689.25" y1="552.90" x2="699.95" y2="552.90" stroke="#111" stroke-width="0.9" />
<line x1="727.00" y1="636.00" x2="727.00" y2="634.30" stroke="#000" stroke-width="0.8" />
<line x1="721.65" y1="634.30" x2="732.35" y2="634.30" stroke="#000" stroke-width="0.8" />
<line x1="759.40" y1="650.20" x2="759.40" y2="649.30" stroke="#002" stroke-width="0.9" />
<line x1="754.40" y1="649.30" x2="764.40" y2="649.30" stroke="#002" stroke-width="0.9" />
<rect x="651.30" y="636.00" width="21.20" height="25.10" fill="#000" stroke="none" stroke-width="0" />
<rect x="684.20" y="563.20" width="20.90" height="38.20" fill="#fe0808" stroke="#900" stroke-width="0.5" />
<rect x="684.20" y="611.00" width="20.90" height="50.10" fill="#fe0808" stroke="#900" stroke-width="0.5" />
<rect x="716.30" y="636.00" width="21.20" height="25.10" fill="#000" stroke="none" stroke-width="0" />
<rect x="749.00" y="650.20" width="20.80" height="10.90" fill="#1111ee" stroke="#007" stroke-width="0.5" />
<line x1="662.20" y1="661.10" x2="662.20" y2="663.80" stroke="#000" stroke-width="0.8" />
<line x1="694.50" y1="661.10" x2="694.50" y2="663.80" stroke="#000" stroke-width="0.8" />
<line x1="726.80" y1="661.10" x2="726.80" y2="663.80" stroke="#000" stroke-width="0.8" />
<line x1="759.40" y1="661.10" x2="759.40" y2="663.80" stroke="#000" stroke-width="0.8" />
<path d="M663.30,554.00 V548.60 H694.80 V553.00" fill="none" stroke="#333" stroke-width="0.7" />
<text x="679.00" y="547.40" font-family="Liberation Sans, sans-serif" font-size="10.5" font-weight="bold" fill="#222" text-anchor="middle" letter-spacing="1.0">***</text>
<path d="M726.80,633.70 V628.00 H757.70 V633.70" fill="none" stroke="#333" stroke-width="0.7" />
<text x="742.50" y="626.40" font-family="Liberation Sans, sans-serif" font-size="10.5" font-weight="bold" fill="#222" text-anchor="middle" letter-spacing="1.0">**</text>
<text transform="translate(607.60,600.00) rotate(-90)" font-family="Liberation Sans, sans-serif" font-size="10" font-weight="bold" fill="#222" text-anchor="middle" stroke="#222" stroke-width="0.12">Relative RNA expression</text>
<text x="711.00" y="675.20" font-family="Liberation Serif, serif" font-size="8.8" font-weight="bold" fill="#222" text-anchor="middle" >circNFIC</text>
<rect x="699.40" y="496.30" width="12.70" height="3.70" fill="#000" stroke="none" stroke-width="0" />
<text x="719.60" y="500.80" font-family="Liberation Sans, sans-serif" font-size="7.4" font-weight="normal" fill="#222" text-anchor="start" >pCD25+LPS</text>
<rect x="699.40" y="507.30" width="12.70" height="3.70" fill="#fe1010" stroke="#800" stroke-width="0.4" />
<text x="719.60" y="511.80" font-family="Liberation Sans, sans-serif" font-size="7.4" font-weight="normal" fill="#222" text-anchor="start" >ov circNFIC+LPS</text>
<rect x="699.40" y="518.00" width="12.70" height="3.70" fill="#000" stroke="none" stroke-width="0" />
<text x="719.60" y="522.50" font-family="Liberation Sans, sans-serif" font-size="7.4" font-weight="normal" fill="#222" text-anchor="start" >si NC+LPS</text>
<rect x="699.40" y="529.00" width="12.70" height="3.70" fill="#1111ee" stroke="#007" stroke-width="0.4" />
<text x="719.60" y="533.50" font-family="Liberation Sans, sans-serif" font-size="7.4" font-weight="normal" fill="#222" text-anchor="start" >si circNFIC+LPS</text>
</svg>
</body></html>
